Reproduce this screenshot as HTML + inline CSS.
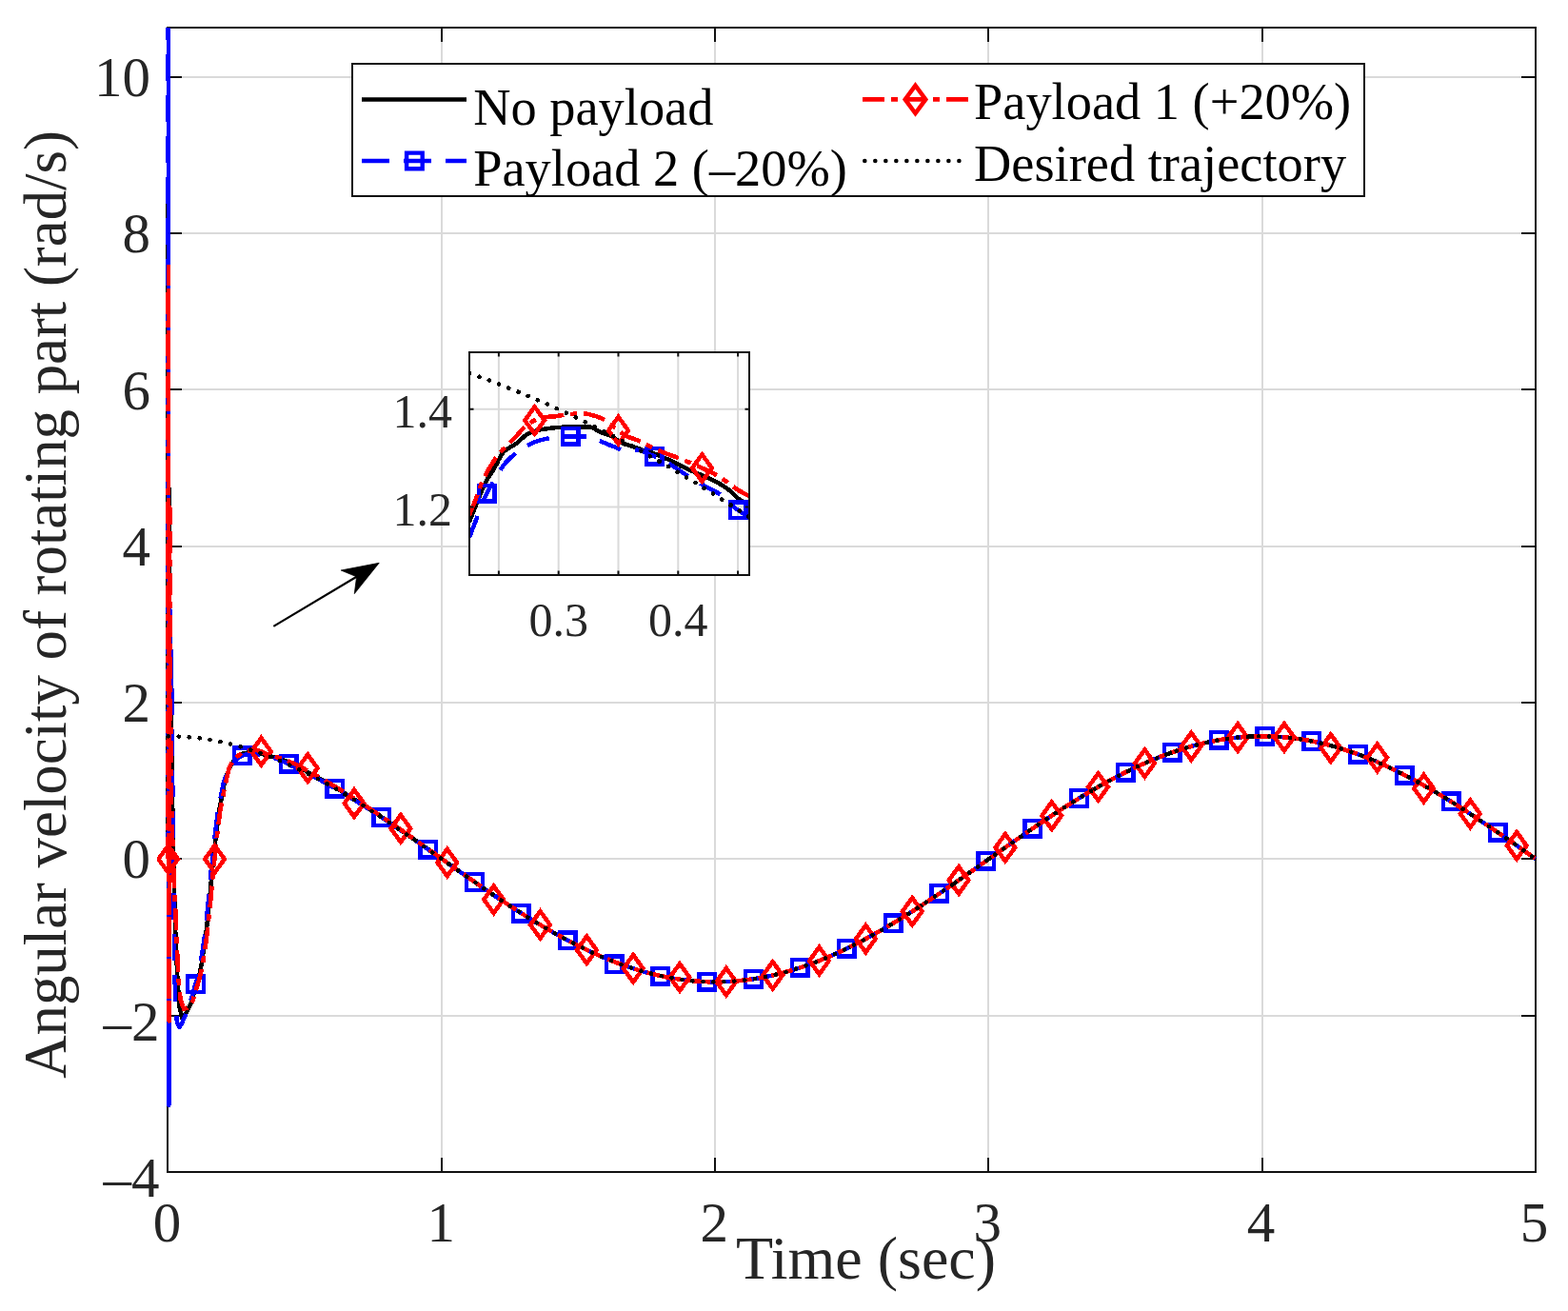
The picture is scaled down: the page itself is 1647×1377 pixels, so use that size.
<!DOCTYPE html>
<html><head><meta charset="utf-8"><title>Angular velocity plot</title>
<style>html,body{margin:0;padding:0;background:#fff;}svg{display:block;}</style>
</head><body>
<svg width="1647" height="1377" viewBox="0 0 1647 1377"><defs><clipPath id="mclip"><rect x="165" y="29.00" width="1456.30" height="1201.85"/></clipPath><clipPath id="iclip"><rect x="493.00" y="370.00" width="294.00" height="234.00"/></clipPath></defs><rect x="0" y="0" width="1647" height="1377" fill="#fff"/><path d="M464,29V1231M751,29V1231M1038,29V1231M1326,29V1231M176,1067H1613M176,902H1613M176,738H1613M176,574H1613M176,409H1613M176,245H1613M176,81H1613" stroke="#dadada" stroke-width="2" fill="none"/><path d="M464,1231V1216M464,29V44M751,1231V1216M751,29V44M1038,1231V1216M1038,29V44M1326,1231V1216M1326,29V44M176,1067H191M1613,1067H1598M176,902H191M1613,902H1598M176,738H191M1613,738H1598M176,574H191M1613,574H1598M176,409H191M1613,409H1598M176,245H191M1613,245H1598M176,81H191M1613,81H1598" stroke="#111111" stroke-width="2" fill="none"/><rect x="176" y="29" width="1437" height="1202" stroke="#111111" stroke-width="2" fill="none"/><g clip-path="url(#mclip)" fill="none" stroke-linejoin="round" shape-rendering="crispEdges"><path d="M176.67,902.33L176.33,187.80L177.10,491.68L178.39,655.94L179.54,738.07L181.84,885.90L184.14,976.25L186.44,1029.63L188.74,1058.38L191.01,1069.05L193.91,1066.59L196.21,1062.48L200.30,1054.40L200.73,1053.03L201.16,1051.65L201.59,1050.26L202.02,1048.86L202.45,1047.46L202.89,1046.04L203.32,1044.61L203.75,1043.17L204.18,1041.71L204.61,1040.24L205.04,1038.76L205.47,1037.29L205.90,1035.83L206.33,1034.39L206.76,1033.00L207.20,1031.63L207.63,1030.23L208.06,1028.79L208.49,1027.27L208.92,1025.64L209.35,1023.93L209.78,1022.15L210.21,1020.28L210.64,1018.30L211.07,1016.20L211.51,1013.96L211.94,1011.51L212.37,1008.65L212.80,1005.56L213.23,1002.46L213.66,999.55L214.09,996.82L214.52,994.15L214.95,991.39L215.38,988.41L215.82,985.14L216.25,981.61L216.68,977.92L217.11,974.12L217.54,970.19L217.97,966.09L218.40,961.90L218.83,957.68L219.26,953.50L219.69,949.29L220.13,944.98L220.56,940.47L220.99,935.55L221.42,930.25L221.85,924.99L222.28,920.20L222.71,916.04L223.14,912.23L223.57,908.59L224.00,904.93L224.44,901.07L224.87,896.94L225.30,892.65L225.73,888.37L226.16,884.21L226.59,880.31L227.02,876.58L227.45,872.97L227.88,869.45L228.31,865.99L228.75,862.48L229.18,858.95L229.61,855.53L230.04,852.37L230.47,849.58L230.90,847.16L231.33,844.97L231.76,842.92L232.19,840.89L232.62,838.79L233.06,836.55L233.49,834.26L233.92,831.98L234.35,829.76L234.78,827.60L235.21,825.43L235.64,823.35L236.07,821.49L236.50,819.90L236.93,818.39L237.37,816.96L237.80,815.59L238.23,814.29L238.66,813.05L239.09,811.87L239.52,810.74L239.95,809.66L240.38,808.63L240.81,807.65L241.24,806.71L241.67,805.84L242.11,805.06L242.54,804.31L242.97,803.58L243.40,802.82L243.83,802.05L244.26,801.28L244.69,800.55L245.12,799.89L245.55,799.33L245.98,798.84L246.42,798.38L246.85,797.93L247.28,797.45L247.71,796.90L248.14,796.31L248.57,795.70L249.00,795.15L249.43,794.69L249.86,794.38L250.29,794.14L250.73,793.94L251.16,793.77L251.59,793.60L252.02,793.44L252.45,793.25L252.88,793.02L253.31,792.76L253.74,792.48L254.17,792.20L254.60,791.92L255.04,791.68L255.47,791.48L255.90,791.34L256.33,791.22L256.76,791.12L257.19,791.03L257.62,790.94L258.05,790.87L258.48,790.80L258.91,790.74L259.35,790.69L259.78,790.64L260.21,790.60L260.64,790.57L261.07,790.53L261.50,790.50L261.93,790.47L262.36,790.44L262.79,790.41L263.22,790.39L263.66,790.37L264.09,790.36L264.52,790.36L264.95,790.35L265.38,790.35L265.81,790.35L266.24,790.35L266.67,790.35L267.10,790.35L267.53,790.35L267.97,790.35L268.40,790.35L268.83,790.35L269.26,790.35L269.69,790.35L270.12,790.35L270.55,790.36L270.98,790.43L271.41,790.58L271.84,790.77L272.28,790.98L272.71,791.16L273.14,791.28L273.57,791.38L274.00,791.47L274.43,791.55L274.86,791.65L275.29,791.76L275.72,791.91L276.15,792.11L276.59,792.33L277.02,792.56L277.45,792.77L277.88,792.96L278.31,793.09L278.74,793.19L279.17,793.28L279.60,793.36L280.03,793.45L280.46,793.55L280.89,793.65L281.33,793.77L281.76,793.88L282.19,793.99L282.62,794.10L283.05,794.20L283.48,794.29L283.91,794.38L284.34,794.46L284.77,794.55L285.20,794.65L285.64,794.75L286.07,794.86L286.50,794.98L286.93,795.10L287.36,795.22L287.79,795.35L288.22,795.48L288.65,795.61L289.08,795.74L289.51,795.88L289.95,796.03L290.38,796.18L290.81,796.33L291.24,796.49L291.67,796.65L292.10,796.80L292.53,796.96L292.96,797.11L293.39,797.25L293.82,797.38L294.26,797.52L294.69,797.65L295.12,797.78L295.55,797.91L295.98,798.03L296.41,798.17L296.84,798.30L297.27,798.43L297.70,798.56L298.13,798.68L298.57,798.81L299.00,798.94L299.43,799.08L299.86,799.22L300.29,799.37L300.72,799.53L301.15,799.70L301.58,799.87L302.01,800.05L302.44,800.23L302.88,800.43L303.31,800.64L303.74,800.86L304.17,801.11L304.60,801.39L305.03,801.69L305.46,801.99L305.89,802.26L306.32,802.49L306.75,802.70L307.19,802.89L307.62,803.07L308.05,803.24L308.48,803.38L308.67,803.44L309.82,804.01L310.97,804.58L312.12,805.16L313.26,805.74L314.41,806.32L315.56,806.91L316.71,807.49L317.86,808.09L319.01,808.68L320.16,809.28L321.31,809.88L322.46,810.49L323.61,811.10L324.76,811.71L325.91,812.32L327.06,812.94L328.21,813.56L329.36,814.18L330.50,814.81L331.65,815.44L332.80,816.07L333.95,816.71L335.10,817.35L336.25,817.99L337.40,818.63L338.55,819.28L339.70,819.93L340.85,820.59L342.00,821.24L343.15,821.90L344.30,822.56L345.45,823.23L346.59,823.89L347.74,824.56L348.89,825.24L350.04,825.91L351.19,826.59L352.34,827.27L353.49,827.95L354.64,828.64L355.79,829.33L356.94,830.02L358.09,830.71L359.24,831.41L360.39,832.11L361.54,832.81L362.68,833.51L363.83,834.22L364.98,834.93L366.13,835.64L367.28,836.35L368.43,837.07L369.58,837.78L370.73,838.50L371.88,839.23L373.03,839.95L374.18,840.68L375.33,841.41L376.48,842.14L377.63,842.87L378.78,843.61L379.92,844.34L381.07,845.08L382.22,845.83L383.37,846.57L384.52,847.31L385.67,848.06L386.82,848.81L387.97,849.56L389.12,850.32L390.27,851.07L391.42,851.83L392.57,852.59L393.72,853.35L394.87,854.11L396.01,854.87L397.16,855.64L398.31,856.41L399.46,857.18L400.61,857.95L401.76,858.72L402.91,859.49L404.06,860.27L405.21,861.05L406.36,861.82L407.51,862.60L408.66,863.39L409.81,864.17L410.96,864.95L412.10,865.74L413.25,866.52L414.40,867.31L415.55,868.10L416.70,868.89L417.85,869.68L419.00,870.48L420.15,871.27L421.30,872.06L422.45,872.86L423.60,873.66L424.75,874.45L425.90,875.25L427.05,876.05L428.20,876.85L429.34,877.66L430.49,878.46L431.64,879.26L432.79,880.07L433.94,880.87L435.09,881.68L436.24,882.48L437.39,883.29L438.54,884.10L439.69,884.91L440.84,885.72L441.99,886.53L443.14,887.34L444.29,888.15L445.43,888.96L446.58,889.77L447.73,890.58L448.88,891.39L450.03,892.21L451.18,893.02L452.33,893.83L453.48,894.65L454.63,895.46L455.78,896.27L456.93,897.09L458.08,897.90L459.23,898.72L460.38,899.53L461.52,900.34L462.67,901.16L463.82,901.97L464.97,902.79L466.12,903.60L467.27,904.42L468.42,905.23L469.57,906.04L470.72,906.86L471.87,907.67L473.02,908.48L474.17,909.30L475.32,910.11L476.47,910.92L477.62,911.73L478.76,912.54L479.91,913.35L481.06,914.16L482.21,914.97L483.36,915.78L484.51,916.59L485.66,917.40L486.81,918.21L487.96,919.01L489.11,919.82L490.26,920.63L491.41,921.43L492.56,922.23L493.71,923.04L494.85,923.84L496.00,924.64L497.15,925.44L498.30,926.24L499.45,927.04L500.60,927.83L501.75,928.63L502.90,929.43L504.05,930.22L505.20,931.01L506.35,931.80L507.50,932.59L508.65,933.38L509.80,934.17L510.95,934.96L512.09,935.74L513.24,936.53L514.39,937.31L515.54,938.09L516.69,938.87L517.84,939.65L518.99,940.43L520.14,941.20L521.29,941.97L522.44,942.75L523.59,943.52L524.74,944.29L525.89,945.05L527.04,945.82L528.18,946.58L529.33,947.34L530.48,948.10L531.63,948.86L532.78,949.62L533.93,950.37L535.08,951.13L536.23,951.88L537.38,952.62L538.53,953.37L539.68,954.12L540.83,954.86L541.98,955.60L543.13,956.34L544.27,957.07L545.42,957.81L546.57,958.54L547.72,959.27L548.87,959.99L550.02,960.72L551.17,961.44L552.32,962.16L553.47,962.88L554.62,963.60L555.77,964.31L556.92,965.02L558.07,965.73L559.22,966.43L560.37,967.14L561.51,967.84L562.66,968.53L563.81,969.23L564.96,969.92L566.11,970.61L567.26,971.30L568.41,971.98L569.56,972.66L570.71,973.34L571.86,974.02L573.01,974.69L574.16,975.36L575.31,976.03L576.46,976.69L577.60,977.36L578.75,978.01L579.90,978.67L581.05,979.32L582.20,979.97L583.35,980.62L584.50,981.26L585.65,981.90L586.80,982.54L587.95,983.17L589.10,983.80L590.25,984.43L591.40,985.05L592.55,985.67L593.69,986.29L594.84,986.91L595.99,987.52L597.14,988.12L598.29,988.73L599.44,989.33L600.59,989.93L601.74,990.52L602.89,991.11L604.04,991.70L605.19,992.28L606.34,992.86L607.49,993.44L608.64,994.01L609.79,994.58L610.93,995.14L612.08,995.70L613.23,996.26L614.38,996.82L615.53,997.37L616.68,997.91L617.83,998.45L618.98,998.99L620.13,999.53L621.28,1000.06L622.43,1000.59L623.58,1001.11L624.73,1001.63L625.88,1002.15L627.02,1002.66L628.17,1003.17L629.32,1003.67L630.47,1004.17L631.62,1004.67L632.77,1005.16L633.92,1005.64L635.07,1006.13L636.22,1006.61L637.37,1007.08L638.52,1007.55L639.67,1008.02L640.82,1008.48L641.97,1008.94L643.12,1009.40L644.26,1009.85L645.41,1010.29L646.56,1010.74L647.71,1011.17L648.86,1011.61L650.01,1012.03L651.16,1012.46L652.31,1012.88L653.46,1013.30L654.61,1013.71L655.76,1014.11L656.91,1014.52L658.06,1014.91L659.21,1015.31L660.35,1015.70L661.50,1016.08L662.65,1016.46L663.80,1016.84L664.95,1017.21L666.10,1017.58L667.25,1017.94L668.40,1018.29L669.55,1018.65L670.70,1019.00L671.85,1019.34L673.00,1019.68L674.15,1020.01L675.30,1020.34L676.44,1020.67L677.59,1020.99L678.74,1021.30L679.89,1021.62L681.04,1021.92L682.19,1022.22L683.34,1022.52L684.49,1022.81L685.64,1023.10L686.79,1023.38L687.94,1023.66L689.09,1023.93L690.24,1024.20L691.39,1024.47L692.54,1024.72L693.68,1024.98L694.83,1025.23L695.98,1025.47L697.13,1025.71L698.28,1025.94L699.43,1026.17L700.58,1026.40L701.73,1026.62L702.88,1026.83L704.03,1027.04L705.18,1027.25L706.33,1027.45L707.48,1027.64L708.63,1027.83L709.77,1028.02L710.92,1028.20L712.07,1028.37L713.22,1028.54L714.37,1028.71L715.52,1028.87L716.67,1029.02L717.82,1029.17L718.97,1029.32L720.12,1029.46L721.27,1029.60L722.42,1029.73L723.57,1029.85L724.72,1029.97L725.86,1030.09L727.01,1030.20L728.16,1030.30L729.31,1030.40L730.46,1030.50L731.61,1030.59L732.76,1030.67L733.91,1030.75L735.06,1030.82L736.21,1030.89L737.36,1030.96L738.51,1031.02L739.66,1031.07L740.81,1031.12L741.96,1031.17L743.10,1031.20L744.25,1031.24L745.40,1031.27L746.55,1031.29L747.70,1031.31L748.85,1031.32L750.00,1031.33L751.15,1031.34L752.30,1031.33L753.45,1031.33L754.60,1031.31L755.75,1031.30L756.90,1031.28L758.05,1031.25L759.19,1031.22L760.34,1031.18L761.49,1031.14L762.64,1031.09L763.79,1031.04L764.94,1030.98L766.09,1030.92L767.24,1030.85L768.39,1030.77L769.54,1030.70L770.69,1030.61L771.84,1030.53L772.99,1030.43L774.14,1030.33L775.28,1030.23L776.43,1030.12L777.58,1030.01L778.73,1029.89L779.88,1029.77L781.03,1029.64L782.18,1029.51L783.33,1029.37L784.48,1029.22L785.63,1029.07L786.78,1028.92L787.93,1028.76L789.08,1028.60L790.23,1028.43L791.38,1028.26L792.52,1028.08L793.67,1027.89L794.82,1027.71L795.97,1027.51L797.12,1027.31L798.27,1027.11L799.42,1026.90L800.57,1026.69L801.72,1026.47L802.87,1026.25L804.02,1026.02L805.17,1025.79L806.32,1025.55L807.47,1025.31L808.61,1025.06L809.76,1024.81L810.91,1024.55L812.06,1024.29L813.21,1024.02L814.36,1023.75L815.51,1023.48L816.66,1023.19L817.81,1022.91L818.96,1022.62L820.11,1022.32L821.26,1022.02L822.41,1021.72L823.56,1021.41L824.71,1021.09L825.85,1020.78L827.00,1020.45L828.15,1020.12L829.30,1019.79L830.45,1019.45L831.60,1019.11L832.75,1018.76L833.90,1018.41L835.05,1018.06L836.20,1017.70L837.35,1017.33L838.50,1016.96L839.65,1016.59L840.80,1016.21L841.94,1015.83L843.09,1015.44L844.24,1015.05L845.39,1014.65L846.54,1014.25L847.69,1013.84L848.84,1013.43L849.99,1013.02L851.14,1012.60L852.29,1012.18L853.44,1011.75L854.59,1011.32L855.74,1010.88L856.89,1010.44L858.03,1010.00L859.18,1009.55L860.33,1009.10L861.48,1008.64L862.63,1008.18L863.78,1007.71L864.93,1007.25L866.08,1006.77L867.23,1006.29L868.38,1005.81L869.53,1005.33L870.68,1004.84L871.83,1004.34L872.98,1003.84L874.13,1003.34L875.27,1002.83L876.42,1002.32L877.57,1001.81L878.72,1001.29L879.87,1000.77L881.02,1000.24L882.17,999.71L883.32,999.18L884.47,998.64L885.62,998.10L886.77,997.56L887.92,997.01L889.07,996.46L890.22,995.90L891.36,995.34L892.51,994.78L893.66,994.21L894.81,993.64L895.96,993.06L897.11,992.49L898.26,991.90L899.41,991.32L900.56,990.73L901.71,990.14L902.86,989.54L904.01,988.94L905.16,988.34L906.31,987.74L907.45,987.13L908.60,986.51L909.75,985.90L910.90,985.28L912.05,984.66L913.20,984.03L914.35,983.40L915.50,982.77L916.65,982.13L917.80,981.50L918.95,980.85L920.10,980.21L921.25,979.56L922.40,978.91L923.55,978.26L924.69,977.60L925.84,976.94L926.99,976.28L928.14,975.61L929.29,974.94L930.44,974.27L931.59,973.60L932.74,972.92L933.89,972.24L935.04,971.56L936.19,970.87L937.34,970.19L938.49,969.49L939.64,968.80L940.78,968.11L941.93,967.41L943.08,966.71L944.23,966.00L945.38,965.30L946.53,964.59L947.68,963.88L948.83,963.16L949.98,962.45L951.13,961.73L952.28,961.01L953.43,960.28L954.58,959.56L955.73,958.83L956.88,958.10L958.02,957.37L959.17,956.64L960.32,955.90L961.47,955.16L962.62,954.42L963.77,953.68L964.92,952.93L966.07,952.19L967.22,951.44L968.37,950.69L969.52,949.93L970.67,949.18L971.82,948.42L972.97,947.67L974.11,946.91L975.26,946.14L976.41,945.38L977.56,944.62L978.71,943.85L979.86,943.08L981.01,942.31L982.16,941.54L983.31,940.77L984.46,939.99L985.61,939.22L986.76,938.44L987.91,937.66L989.06,936.88L990.20,936.10L991.35,935.32L992.50,934.53L993.65,933.75L994.80,932.96L995.95,932.17L997.10,931.38L998.25,930.59L999.40,929.80L1000.55,929.01L1001.70,928.21L1002.85,927.42L1004.00,926.62L1005.15,925.83L1006.30,925.03L1007.44,924.23L1008.59,923.43L1009.74,922.63L1010.89,921.83L1012.04,921.03L1013.19,920.23L1014.34,919.42L1015.49,918.62L1016.64,917.82L1017.79,917.01L1018.94,916.20L1020.09,915.40L1021.24,914.59L1022.39,913.78L1023.53,912.98L1024.68,912.17L1025.83,911.36L1026.98,910.55L1028.13,909.74L1029.28,908.93L1030.43,908.12L1031.58,907.31L1032.73,906.50L1033.88,905.69L1035.03,904.88L1036.18,904.07L1037.33,903.26L1038.48,902.45L1039.62,901.64L1040.77,900.83L1041.92,900.02L1043.07,899.21L1044.22,898.40L1045.37,897.59L1046.52,896.78L1047.67,895.97L1048.82,895.16L1049.97,894.35L1051.12,893.54L1052.27,892.73L1053.42,891.93L1054.57,891.12L1055.72,890.31L1056.86,889.50L1058.01,888.70L1059.16,887.89L1060.31,887.09L1061.46,886.28L1062.61,885.48L1063.76,884.67L1064.91,883.87L1066.06,883.07L1067.21,882.27L1068.36,881.47L1069.51,880.67L1070.66,879.87L1071.81,879.07L1072.95,878.28L1074.10,877.48L1075.25,876.68L1076.40,875.89L1077.55,875.10L1078.70,874.31L1079.85,873.52L1081.00,872.73L1082.15,871.94L1083.30,871.15L1084.45,870.36L1085.60,869.58L1086.75,868.80L1087.90,868.01L1089.04,867.23L1090.19,866.45L1091.34,865.68L1092.49,864.90L1093.64,864.12L1094.79,863.35L1095.94,862.58L1097.09,861.81L1098.24,861.04L1099.39,860.27L1100.54,859.51L1101.69,858.74L1102.84,857.98L1103.99,857.22L1105.14,856.46L1106.28,855.71L1107.43,854.95L1108.58,854.20L1109.73,853.45L1110.88,852.70L1112.03,851.95L1113.18,851.21L1114.33,850.46L1115.48,849.72L1116.63,848.98L1117.78,848.25L1118.93,847.51L1120.08,846.78L1121.23,846.05L1122.37,845.32L1123.52,844.59L1124.67,843.87L1125.82,843.15L1126.97,842.43L1128.12,841.71L1129.27,841.00L1130.42,840.29L1131.57,839.58L1132.72,838.87L1133.87,838.16L1135.02,837.46L1136.17,836.76L1137.32,836.07L1138.47,835.37L1139.61,834.68L1140.76,833.99L1141.91,833.31L1143.06,832.62L1144.21,831.94L1145.36,831.26L1146.51,830.59L1147.66,829.92L1148.81,829.25L1149.96,828.58L1151.11,827.92L1152.26,827.26L1153.41,826.60L1154.56,825.94L1155.70,825.29L1156.85,824.64L1158.00,824.00L1159.15,823.36L1160.30,822.72L1161.45,822.08L1162.60,821.45L1163.75,820.82L1164.90,820.19L1166.05,819.57L1167.20,818.95L1168.35,818.33L1169.50,817.72L1170.65,817.11L1171.79,816.50L1172.94,815.90L1174.09,815.30L1175.24,814.70L1176.39,814.11L1177.54,813.52L1178.69,812.93L1179.84,812.35L1180.99,811.77L1182.14,811.19L1183.29,810.62L1184.44,810.05L1185.59,809.49L1186.74,808.93L1187.89,808.37L1189.03,807.82L1190.18,807.27L1191.33,806.72L1192.48,806.18L1193.63,805.64L1194.78,805.10L1195.93,804.57L1197.08,804.05L1198.23,803.52L1199.38,803.00L1200.53,802.49L1201.68,801.98L1202.83,801.47L1203.98,800.97L1205.12,800.47L1206.27,799.97L1207.42,799.48L1208.57,798.99L1209.72,798.51L1210.87,798.03L1212.02,797.56L1213.17,797.08L1214.32,796.62L1215.47,796.16L1216.62,795.70L1217.77,795.24L1218.92,794.79L1220.07,794.35L1221.21,793.91L1222.36,793.47L1223.51,793.04L1224.66,792.61L1225.81,792.18L1226.96,791.76L1228.11,791.35L1229.26,790.94L1230.41,790.53L1231.56,790.13L1232.71,789.73L1233.86,789.34L1235.01,788.95L1236.16,788.56L1237.31,788.18L1238.45,787.81L1239.60,787.44L1240.75,787.07L1241.90,786.71L1243.05,786.35L1244.20,786.00L1245.35,785.65L1246.50,785.31L1247.65,784.97L1248.80,784.63L1249.95,784.30L1251.10,783.98L1252.25,783.66L1253.40,783.34L1254.54,783.03L1255.69,782.73L1256.84,782.42L1257.99,782.13L1259.14,781.84L1260.29,781.55L1261.44,781.27L1262.59,780.99L1263.74,780.72L1264.89,780.45L1266.04,780.18L1267.19,779.93L1268.34,779.67L1269.49,779.42L1270.64,779.18L1271.78,778.94L1272.93,778.71L1274.08,778.48L1275.23,778.25L1276.38,778.03L1277.53,777.82L1278.68,777.61L1279.83,777.40L1280.98,777.20L1282.13,777.01L1283.28,776.82L1284.43,776.63L1285.58,776.45L1286.73,776.28L1287.87,776.11L1289.02,775.94L1290.17,775.78L1291.32,775.63L1292.47,775.48L1293.62,775.33L1294.77,775.19L1295.92,775.06L1297.07,774.93L1298.22,774.80L1299.37,774.68L1300.52,774.57L1301.67,774.46L1302.82,774.35L1303.96,774.25L1305.11,774.16L1306.26,774.07L1307.41,773.98L1308.56,773.90L1309.71,773.83L1310.86,773.76L1312.01,773.70L1313.16,773.64L1314.31,773.58L1315.46,773.53L1316.61,773.49L1317.76,773.45L1318.91,773.42L1320.06,773.39L1321.20,773.36L1322.35,773.35L1323.50,773.33L1324.65,773.32L1325.80,773.32L1326.95,773.32L1328.10,773.33L1329.25,773.34L1330.40,773.36L1331.55,773.38L1332.70,773.41L1333.85,773.44L1335.00,773.48L1336.15,773.52L1337.29,773.57L1338.44,773.62L1339.59,773.68L1340.74,773.74L1341.89,773.81L1343.04,773.88L1344.19,773.96L1345.34,774.04L1346.49,774.13L1347.64,774.22L1348.79,774.32L1349.94,774.43L1351.09,774.53L1352.24,774.65L1353.38,774.77L1354.53,774.89L1355.68,775.02L1356.83,775.15L1357.98,775.29L1359.13,775.43L1360.28,775.58L1361.43,775.74L1362.58,775.90L1363.73,776.06L1364.88,776.23L1366.03,776.40L1367.18,776.58L1368.33,776.76L1369.48,776.95L1370.62,777.15L1371.77,777.34L1372.92,777.55L1374.07,777.75L1375.22,777.97L1376.37,778.19L1377.52,778.41L1378.67,778.64L1379.82,778.87L1380.97,779.11L1382.12,779.35L1383.27,779.60L1384.42,779.85L1385.57,780.11L1386.71,780.37L1387.86,780.63L1389.01,780.91L1390.16,781.18L1391.31,781.46L1392.46,781.75L1393.61,782.04L1394.76,782.34L1395.91,782.64L1397.06,782.94L1398.21,783.25L1399.36,783.56L1400.51,783.88L1401.66,784.21L1402.80,784.53L1403.95,784.87L1405.10,785.20L1406.25,785.55L1407.40,785.89L1408.55,786.25L1409.70,786.60L1410.85,786.96L1412.00,787.33L1413.15,787.70L1414.30,788.07L1415.45,788.45L1416.60,788.83L1417.75,789.22L1418.90,789.61L1420.04,790.01L1421.19,790.41L1422.34,790.81L1423.49,791.22L1424.64,791.64L1425.79,792.06L1426.94,792.48L1428.09,792.91L1429.24,793.34L1430.39,793.77L1431.54,794.21L1432.69,794.66L1433.84,795.11L1434.99,795.56L1436.13,796.02L1437.28,796.48L1438.43,796.94L1439.58,797.41L1440.73,797.89L1441.88,798.37L1443.03,798.85L1444.18,799.33L1445.33,799.82L1446.48,800.32L1447.63,800.82L1448.78,801.32L1449.93,801.82L1451.08,802.33L1452.23,802.85L1453.37,803.37L1454.52,803.89L1455.67,804.41L1456.82,804.94L1457.97,805.48L1459.12,806.02L1460.27,806.56L1461.42,807.10L1462.57,807.65L1463.72,808.20L1464.87,808.76L1466.02,809.32L1467.17,809.88L1468.32,810.45L1469.46,811.02L1470.61,811.60L1471.76,812.17L1472.91,812.75L1474.06,813.34L1475.21,813.93L1476.36,814.52L1477.51,815.12L1478.66,815.72L1479.81,816.32L1480.96,816.92L1482.11,817.53L1483.26,818.15L1484.41,818.76L1485.55,819.38L1486.70,820.00L1487.85,820.63L1489.00,821.26L1490.15,821.89L1491.30,822.52L1492.45,823.16L1493.60,823.80L1494.75,824.45L1495.90,825.10L1497.05,825.75L1498.20,826.40L1499.35,827.06L1500.50,827.72L1501.65,828.38L1502.79,829.05L1503.94,829.72L1505.09,830.39L1506.24,831.06L1507.39,831.74L1508.54,832.42L1509.69,833.10L1510.84,833.79L1511.99,834.47L1513.14,835.16L1514.29,835.86L1515.44,836.55L1516.59,837.25L1517.74,837.95L1518.88,838.66L1520.03,839.36L1521.18,840.07L1522.33,840.78L1523.48,841.50L1524.63,842.21L1525.78,842.93L1526.93,843.65L1528.08,844.38L1529.23,845.10L1530.38,845.83L1531.53,846.56L1532.68,847.29L1533.83,848.02L1534.97,848.76L1536.12,849.50L1537.27,850.24L1538.42,850.98L1539.57,851.73L1540.72,852.47L1541.87,853.22L1543.02,853.97L1544.17,854.73L1545.32,855.48L1546.47,856.24L1547.62,856.99L1548.77,857.75L1549.92,858.52L1551.07,859.28L1552.21,860.04L1553.36,860.81L1554.51,861.58L1555.66,862.35L1556.81,863.12L1557.96,863.89L1559.11,864.67L1560.26,865.44L1561.41,866.22L1562.56,867.00L1563.71,867.78L1564.86,868.56L1566.01,869.34L1567.16,870.13L1568.30,870.91L1569.45,871.70L1570.60,872.49L1571.75,873.28L1572.90,874.07L1574.05,874.86L1575.20,875.65L1576.35,876.45L1577.50,877.24L1578.65,878.04L1579.80,878.83L1580.95,879.63L1582.10,880.43L1583.25,881.23L1584.40,882.03L1585.54,882.83L1586.69,883.63L1587.84,884.43L1588.99,885.24L1590.14,886.04L1591.29,886.84L1592.44,887.65L1593.59,888.46L1594.74,889.26L1595.89,890.07L1597.04,890.88L1598.19,891.68L1599.34,892.49L1600.49,893.30L1601.63,894.11L1602.78,894.92L1603.93,895.73L1605.08,896.54L1606.23,897.35L1607.38,898.16L1608.53,898.97L1609.68,899.78L1610.83,900.59L1611.98,901.40L1613.13,902.21" stroke="#000" stroke-width="4.5"/><path d="M176.67,902.33L176.73,-42.16L177.45,1160.63L178.25,639.51L180.61,738.07L181.84,902.33L182.99,1000.89L184.14,1050.16L185.86,1073.16L188.45,1078.91L191.04,1074.80L193.91,1068.23L199.15,1054.40L199.58,1053.03L200.01,1051.65L200.44,1050.26L200.87,1048.86L201.31,1047.46L201.74,1046.04L202.17,1044.61L202.60,1043.17L203.03,1041.71L203.46,1040.24L203.89,1038.76L204.32,1037.29L204.75,1035.83L205.18,1034.39L205.62,1033.00L206.05,1031.63L206.48,1030.23L206.91,1028.79L207.34,1027.27L207.77,1025.64L208.20,1023.93L208.63,1022.15L209.06,1020.28L209.49,1018.30L209.93,1016.20L210.36,1013.96L210.79,1011.51L211.22,1008.65L211.65,1005.56L212.08,1002.46L212.51,999.55L212.94,996.82L213.37,994.15L213.80,991.39L214.24,988.41L214.67,985.14L215.10,981.61L215.53,977.92L215.96,974.12L216.39,970.19L216.82,966.09L217.25,961.90L217.68,957.68L218.11,953.50L218.55,949.29L218.98,944.98L219.41,940.47L219.84,935.55L220.27,930.25L220.70,924.99L221.13,920.20L221.56,916.04L221.99,912.23L222.42,908.59L222.86,904.93L223.29,901.07L223.72,896.94L224.15,892.65L224.58,888.37L225.01,884.21L225.44,880.31L225.87,876.58L226.30,872.97L226.73,869.45L227.16,865.99L227.60,862.48L228.03,858.95L228.46,855.53L228.89,852.37L229.32,849.58L229.75,847.16L230.18,844.97L230.61,842.92L231.04,840.89L231.47,838.79L231.91,836.55L232.34,834.26L232.77,831.98L233.20,829.76L233.63,827.57L234.06,825.30L234.49,823.16L234.92,821.41L235.35,820.14L235.78,819.00L236.22,817.97L236.65,817.02L237.08,816.15L237.51,815.35L237.94,814.59L238.37,813.88L238.80,813.19L239.23,812.52L239.66,811.85L240.09,811.17L240.53,810.46L240.96,809.73L241.39,808.95L241.82,808.16L242.25,807.37L242.68,806.59L243.11,805.82L243.54,805.05L243.97,804.26L244.40,803.47L244.84,802.70L245.27,801.99L245.70,801.36L246.13,800.80L246.56,800.28L246.99,799.79L247.42,799.30L247.85,798.81L248.28,798.29L248.71,797.76L249.15,797.26L249.58,796.81L250.01,796.43L250.44,796.10L250.87,795.80L251.30,795.52L251.73,795.26L252.16,794.99L252.59,794.73L253.02,794.48L253.46,794.26L253.89,794.05L254.32,793.87L254.75,793.69L255.18,793.52L255.61,793.36L256.04,793.20L256.47,793.06L256.90,792.94L257.33,792.82L257.77,792.72L258.20,792.62L258.63,792.53L259.06,792.45L259.49,792.37L259.92,792.30L260.35,792.25L260.78,792.20L261.21,792.16L261.64,792.12L262.08,792.09L262.51,792.05L262.94,792.02L263.37,791.99L263.80,791.97L264.23,791.95L264.66,791.93L265.09,791.92L265.52,791.91L265.95,791.91L266.38,791.91L266.82,791.91L267.25,791.91L267.68,791.91L268.11,791.91L268.54,791.91L268.97,791.91L269.40,791.91L269.83,791.92L270.26,791.96L270.69,792.05L271.13,792.18L271.56,792.32L271.99,792.46L272.42,792.59L272.85,792.71L273.28,792.83L273.71,792.95L274.14,793.07L274.57,793.20L275.00,793.32L275.44,793.44L275.87,793.57L276.30,793.68L276.73,793.80L277.16,793.93L277.59,794.07L278.02,794.20L278.45,794.29L278.88,794.34L279.31,794.34L279.75,794.32L280.18,794.29L280.61,794.26L281.04,794.23L281.47,794.21L281.90,794.21L282.33,794.24L282.76,794.32L283.19,794.44L283.62,794.57L284.06,794.72L284.49,794.85L284.92,794.97L285.35,795.09L285.78,795.21L286.21,795.34L286.64,795.47L287.07,795.61L287.50,795.76L287.93,795.92L288.37,796.08L288.80,796.25L289.23,796.42L289.66,796.60L290.09,796.78L290.52,796.97L290.95,797.16L291.38,797.36L291.81,797.57L292.24,797.78L292.68,797.99L293.11,798.20L293.54,798.40L293.97,798.60L294.40,798.78L294.83,798.97L295.26,799.15L295.69,799.32L296.12,799.50L296.55,799.67L296.99,799.84L297.42,800.01L297.85,800.18L298.28,800.35L298.71,800.52L299.14,800.69L299.57,800.85L300.00,801.00L300.43,801.15L300.86,801.30L301.30,801.46L301.73,801.63L302.16,801.82L302.59,802.02L303.02,802.28L303.45,802.58L303.88,802.92L304.31,803.26L304.74,803.59L305.17,803.87L305.60,804.10L306.04,804.31L306.47,804.51L306.90,804.69L307.33,804.86L307.76,805.00L308.19,805.13L308.27,805.15L309.41,805.68L310.56,806.23L311.71,806.77L312.86,807.32L314.01,807.87L315.16,808.43L316.31,808.99L317.46,809.56L318.61,810.12L319.76,810.70L320.91,811.27L322.06,811.85L323.21,812.43L324.36,813.02L325.50,813.61L326.65,814.20L327.80,814.80L328.95,815.40L330.10,816.00L331.25,816.61L332.40,817.21L333.55,817.83L334.70,818.44L335.85,819.06L337.00,819.69L338.15,820.31L339.30,820.94L340.45,821.57L341.60,822.21L342.74,822.85L343.89,823.49L345.04,824.14L346.19,824.78L347.34,825.44L348.49,826.09L349.64,826.75L350.79,827.41L351.94,828.07L353.09,828.74L354.24,829.40L355.39,830.08L356.54,830.75L357.69,831.43L358.83,832.11L359.98,832.79L361.13,833.48L362.28,834.16L363.43,834.86L364.58,835.55L365.73,836.24L366.88,836.94L368.03,837.64L369.18,838.35L370.33,839.06L371.48,839.76L372.63,840.48L373.78,841.19L374.92,841.91L376.07,842.62L377.22,843.34L378.37,844.07L379.52,844.79L380.67,845.52L381.82,846.25L382.97,846.98L384.12,847.72L385.27,848.45L386.42,849.19L387.57,849.93L388.72,850.67L389.87,851.42L391.02,852.17L392.16,852.91L393.31,853.67L394.46,854.42L395.61,855.17L396.76,855.93L397.91,856.69L399.06,857.45L400.21,858.21L401.36,858.97L402.51,859.74L403.66,860.50L404.81,861.27L405.96,862.04L407.11,862.81L408.25,863.59L409.40,864.36L410.55,865.14L411.70,865.91L412.85,866.69L414.00,867.47L415.15,868.26L416.30,869.04L417.45,869.82L418.60,870.61L419.75,871.39L420.90,872.18L422.05,872.97L423.20,873.76L424.35,874.55L425.49,875.35L426.64,876.14L427.79,876.94L428.94,877.73L430.09,878.53L431.24,879.33L432.39,880.12L433.54,880.92L434.69,881.72L435.84,882.52L436.99,883.33L438.14,884.13L439.29,884.93L440.44,885.74L441.58,886.54L442.73,887.35L443.88,888.15L445.03,888.96L446.18,889.76L447.33,890.57L448.48,891.38L449.63,892.19L450.78,893.00L451.93,893.81L453.08,894.61L454.23,895.42L455.38,896.23L456.53,897.04L457.67,897.85L458.82,898.66L459.97,899.48L461.12,900.29L462.27,901.10L463.42,901.91L464.57,902.72L465.72,903.53L466.87,904.34L468.02,905.15L469.17,905.96L470.32,906.77L471.47,907.58L472.62,908.39L473.77,909.20L474.91,910.01L476.06,910.82L477.21,911.63L478.36,912.44L479.51,913.25L480.66,914.05L481.81,914.86L482.96,915.67L484.11,916.47L485.26,917.28L486.41,918.08L487.56,918.89L488.71,919.69L489.86,920.50L491.00,921.30L492.15,922.10L493.30,922.90L494.45,923.70L495.60,924.50L496.75,925.30L497.90,926.10L499.05,926.89L500.20,927.69L501.35,928.48L502.50,929.27L503.65,930.07L504.80,930.86L505.95,931.65L507.09,932.44L508.24,933.23L509.39,934.01L510.54,934.80L511.69,935.58L512.84,936.36L513.99,937.15L515.14,937.92L516.29,938.70L517.44,939.48L518.59,940.26L519.74,941.03L520.89,941.80L522.04,942.57L523.19,943.34L524.33,944.11L525.48,944.88L526.63,945.64L527.78,946.40L528.93,947.17L530.08,947.92L531.23,948.68L532.38,949.44L533.53,950.19L534.68,950.94L535.83,951.69L536.98,952.44L538.13,953.19L539.28,953.93L540.42,954.67L541.57,955.41L542.72,956.15L543.87,956.89L545.02,957.62L546.17,958.35L547.32,959.08L548.47,959.81L549.62,960.53L550.77,961.25L551.92,961.97L553.07,962.69L554.22,963.41L555.37,964.12L556.51,964.83L557.66,965.54L558.81,966.24L559.96,966.95L561.11,967.65L562.26,968.35L563.41,969.04L564.56,969.73L565.71,970.42L566.86,971.11L568.01,971.79L569.16,972.48L570.31,973.16L571.46,973.83L572.61,974.50L573.75,975.18L574.90,975.84L576.05,976.51L577.20,977.17L578.35,977.83L579.50,978.48L580.65,979.14L581.80,979.79L582.95,980.43L584.10,981.08L585.25,981.72L586.40,982.36L587.55,982.99L588.70,983.62L589.84,984.25L590.99,984.87L592.14,985.49L593.29,986.11L594.44,986.73L595.59,987.34L596.74,987.95L597.89,988.55L599.04,989.15L600.19,989.75L601.34,990.34L602.49,990.94L603.64,991.52L604.79,992.11L605.94,992.69L607.08,993.26L608.23,993.84L609.38,994.41L610.53,994.97L611.68,995.54L612.83,996.09L613.98,996.65L615.13,997.20L616.28,997.75L617.43,998.29L618.58,998.83L619.73,999.37L620.88,999.90L622.03,1000.43L623.17,1000.95L624.32,1001.47L625.47,1001.99L626.62,1002.50L627.77,1003.01L628.92,1003.52L630.07,1004.02L631.22,1004.51L632.37,1005.01L633.52,1005.50L634.67,1005.98L635.82,1006.46L636.97,1006.94L638.12,1007.41L639.26,1007.88L640.41,1008.34L641.56,1008.80L642.71,1009.26L643.86,1009.71L645.01,1010.16L646.16,1010.60L647.31,1011.04L648.46,1011.47L649.61,1011.90L650.76,1012.33L651.91,1012.75L653.06,1013.17L654.21,1013.58L655.36,1013.99L656.50,1014.39L657.65,1014.79L658.80,1015.18L659.95,1015.58L661.10,1015.96L662.25,1016.34L663.40,1016.72L664.55,1017.09L665.70,1017.46L666.85,1017.82L668.00,1018.18L669.15,1018.54L670.30,1018.89L671.45,1019.23L672.59,1019.57L673.74,1019.91L674.89,1020.24L676.04,1020.57L677.19,1020.89L678.34,1021.21L679.49,1021.52L680.64,1021.83L681.79,1022.13L682.94,1022.43L684.09,1022.72L685.24,1023.01L686.39,1023.29L687.54,1023.57L688.68,1023.85L689.83,1024.12L690.98,1024.38L692.13,1024.64L693.28,1024.90L694.43,1025.15L695.58,1025.39L696.73,1025.64L697.88,1025.87L699.03,1026.10L700.18,1026.33L701.33,1026.55L702.48,1026.77L703.63,1026.98L704.78,1027.18L705.92,1027.39L707.07,1027.58L708.22,1027.77L709.37,1027.96L710.52,1028.14L711.67,1028.32L712.82,1028.49L713.97,1028.66L715.12,1028.82L716.27,1028.98L717.42,1029.13L718.57,1029.28L719.72,1029.42L720.87,1029.55L722.01,1029.69L723.16,1029.81L724.31,1029.94L725.46,1030.05L726.61,1030.16L727.76,1030.27L728.91,1030.37L730.06,1030.47L731.21,1030.56L732.36,1030.65L733.51,1030.73L734.66,1030.80L735.81,1030.88L736.96,1030.94L738.11,1031.00L739.25,1031.06L740.40,1031.11L741.55,1031.16L742.70,1031.20L743.85,1031.23L745.00,1031.26L746.15,1031.29L747.30,1031.31L748.45,1031.32L749.60,1031.33L750.75,1031.34L751.90,1031.34L753.05,1031.33L754.20,1031.32L755.34,1031.31L756.49,1031.29L757.64,1031.26L758.79,1031.23L759.94,1031.20L761.09,1031.16L762.24,1031.11L763.39,1031.06L764.54,1031.00L765.69,1030.94L766.84,1030.88L767.99,1030.80L769.14,1030.73L770.29,1030.65L771.43,1030.56L772.58,1030.47L773.73,1030.37L774.88,1030.27L776.03,1030.16L777.18,1030.05L778.33,1029.94L779.48,1029.81L780.63,1029.69L781.78,1029.56L782.93,1029.42L784.08,1029.28L785.23,1029.13L786.38,1028.98L787.53,1028.82L788.67,1028.66L789.82,1028.49L790.97,1028.32L792.12,1028.14L793.27,1027.96L794.42,1027.77L795.57,1027.58L796.72,1027.39L797.87,1027.18L799.02,1026.98L800.17,1026.77L801.32,1026.55L802.47,1026.33L803.62,1026.10L804.76,1025.87L805.91,1025.64L807.06,1025.40L808.21,1025.15L809.36,1024.90L810.51,1024.64L811.66,1024.38L812.81,1024.12L813.96,1023.85L815.11,1023.57L816.26,1023.30L817.41,1023.01L818.56,1022.72L819.71,1022.43L820.85,1022.13L822.00,1021.83L823.15,1021.52L824.30,1021.21L825.45,1020.89L826.60,1020.57L827.75,1020.24L828.90,1019.91L830.05,1019.57L831.20,1019.23L832.35,1018.89L833.50,1018.54L834.65,1018.18L835.80,1017.83L836.95,1017.46L838.09,1017.09L839.24,1016.72L840.39,1016.34L841.54,1015.96L842.69,1015.58L843.84,1015.19L844.99,1014.79L846.14,1014.39L847.29,1013.99L848.44,1013.58L849.59,1013.17L850.74,1012.75L851.89,1012.33L853.04,1011.90L854.18,1011.47L855.33,1011.04L856.48,1010.60L857.63,1010.16L858.78,1009.71L859.93,1009.26L861.08,1008.80L862.23,1008.34L863.38,1007.88L864.53,1007.41L865.68,1006.94L866.83,1006.46L867.98,1005.98L869.13,1005.50L870.27,1005.01L871.42,1004.52L872.57,1004.02L873.72,1003.52L874.87,1003.01L876.02,1002.50L877.17,1001.99L878.32,1001.47L879.47,1000.95L880.62,1000.43L881.77,999.90L882.92,999.37L884.07,998.83L885.22,998.29L886.37,997.75L887.51,997.20L888.66,996.65L889.81,996.10L890.96,995.54L892.11,994.98L893.26,994.41L894.41,993.84L895.56,993.27L896.71,992.69L897.86,992.11L899.01,991.53L900.16,990.94L901.31,990.35L902.46,989.75L903.60,989.15L904.75,988.55L905.90,987.95L907.05,987.34L908.20,986.73L909.35,986.11L910.50,985.50L911.65,984.88L912.80,984.25L913.95,983.62L915.10,982.99L916.25,982.36L917.40,981.72L918.55,981.08L919.70,980.44L920.84,979.79L921.99,979.14L923.14,978.49L924.29,977.83L925.44,977.17L926.59,976.51L927.74,975.85L928.89,975.18L930.04,974.51L931.19,973.84L932.34,973.16L933.49,972.48L934.64,971.80L935.79,971.11L936.93,970.43L938.08,969.74L939.23,969.04L940.38,968.35L941.53,967.65L942.68,966.95L943.83,966.25L944.98,965.54L946.13,964.84L947.28,964.13L948.43,963.41L949.58,962.70L950.73,961.98L951.88,961.26L953.02,960.54L954.17,959.81L955.32,959.09L956.47,958.36L957.62,957.63L958.77,956.89L959.92,956.16L961.07,955.42L962.22,954.68L963.37,953.94L964.52,953.19L965.67,952.45L966.82,951.70L967.97,950.95L969.12,950.20L970.26,949.44L971.41,948.69L972.56,947.93L973.71,947.17L974.86,946.41L976.01,945.65L977.16,944.88L978.31,944.12L979.46,943.35L980.61,942.58L981.76,941.81L982.91,941.04L984.06,940.26L985.21,939.49L986.35,938.71L987.50,937.93L988.65,937.15L989.80,936.37L990.95,935.59L992.10,934.81L993.25,934.02L994.40,933.23L995.55,932.45L996.70,931.66L997.85,930.87L999.00,930.08L1000.15,929.28L1001.30,928.49L1002.44,927.70L1003.59,926.90L1004.74,926.11L1005.89,925.31L1007.04,924.51L1008.19,923.71L1009.34,922.91L1010.49,922.11L1011.64,921.31L1012.79,920.51L1013.94,919.70L1015.09,918.90L1016.24,918.10L1017.39,917.29L1018.54,916.49L1019.68,915.68L1020.83,914.87L1021.98,914.07L1023.13,913.26L1024.28,912.45L1025.43,911.64L1026.58,910.84L1027.73,910.03L1028.88,909.22L1030.03,908.41L1031.18,907.60L1032.33,906.79L1033.48,905.98L1034.63,905.17L1035.77,904.36L1036.92,903.55L1038.07,902.74L1039.22,901.92L1040.37,901.11L1041.52,900.30L1042.67,899.49L1043.82,898.68L1044.97,897.87L1046.12,897.06L1047.27,896.25L1048.42,895.44L1049.57,894.63L1050.72,893.82L1051.86,893.02L1053.01,892.21L1054.16,891.40L1055.31,890.59L1056.46,889.79L1057.61,888.98L1058.76,888.17L1059.91,887.37L1061.06,886.56L1062.21,885.76L1063.36,884.96L1064.51,884.15L1065.66,883.35L1066.81,882.55L1067.96,881.75L1069.10,880.95L1070.25,880.15L1071.40,879.35L1072.55,878.55L1073.70,877.76L1074.85,876.96L1076.00,876.17L1077.15,875.38L1078.30,874.58L1079.45,873.79L1080.60,873.00L1081.75,872.21L1082.90,871.43L1084.05,870.64L1085.19,869.85L1086.34,869.07L1087.49,868.29L1088.64,867.51L1089.79,866.73L1090.94,865.95L1092.09,865.17L1093.24,864.40L1094.39,863.62L1095.54,862.85L1096.69,862.08L1097.84,861.31L1098.99,860.54L1100.14,859.78L1101.29,859.01L1102.43,858.25L1103.58,857.49L1104.73,856.73L1105.88,855.97L1107.03,855.22L1108.18,854.46L1109.33,853.71L1110.48,852.96L1111.63,852.21L1112.78,851.47L1113.93,850.72L1115.08,849.98L1116.23,849.24L1117.38,848.50L1118.52,847.77L1119.67,847.03L1120.82,846.30L1121.97,845.57L1123.12,844.85L1124.27,844.12L1125.42,843.40L1126.57,842.68L1127.72,841.96L1128.87,841.25L1130.02,840.53L1131.17,839.82L1132.32,839.12L1133.47,838.41L1134.61,837.71L1135.76,837.01L1136.91,836.31L1138.06,835.62L1139.21,834.92L1140.36,834.23L1141.51,833.55L1142.66,832.86L1143.81,832.18L1144.96,831.50L1146.11,830.82L1147.26,830.15L1148.41,829.48L1149.56,828.81L1150.71,828.15L1151.85,827.49L1153.00,826.83L1154.15,826.17L1155.30,825.52L1156.45,824.87L1157.60,824.22L1158.75,823.58L1159.90,822.94L1161.05,822.30L1162.20,821.67L1163.35,821.04L1164.50,820.41L1165.65,819.78L1166.80,819.16L1167.94,818.55L1169.09,817.93L1170.24,817.32L1171.39,816.71L1172.54,816.11L1173.69,815.50L1174.84,814.91L1175.99,814.31L1177.14,813.72L1178.29,813.13L1179.44,812.55L1180.59,811.97L1181.74,811.39L1182.89,810.82L1184.03,810.25L1185.18,809.68L1186.33,809.12L1187.48,808.56L1188.63,808.01L1189.78,807.46L1190.93,806.91L1192.08,806.37L1193.23,805.83L1194.38,805.29L1195.53,804.76L1196.68,804.23L1197.83,803.71L1198.98,803.19L1200.13,802.67L1201.27,802.16L1202.42,801.65L1203.57,801.14L1204.72,800.64L1205.87,800.14L1207.02,799.65L1208.17,799.16L1209.32,798.68L1210.47,798.20L1211.62,797.72L1212.77,797.25L1213.92,796.78L1215.07,796.32L1216.22,795.86L1217.36,795.40L1218.51,794.95L1219.66,794.50L1220.81,794.06L1221.96,793.62L1223.11,793.19L1224.26,792.76L1225.41,792.33L1226.56,791.91L1227.71,791.49L1228.86,791.08L1230.01,790.67L1231.16,790.27L1232.31,789.87L1233.46,789.47L1234.60,789.08L1235.75,788.70L1236.90,788.32L1238.05,787.94L1239.20,787.57L1240.35,787.20L1241.50,786.83L1242.65,786.48L1243.80,786.12L1244.95,785.77L1246.10,785.43L1247.25,785.09L1248.40,784.75L1249.55,784.42L1250.69,784.09L1251.84,783.77L1252.99,783.45L1254.14,783.14L1255.29,782.83L1256.44,782.53L1257.59,782.23L1258.74,781.94L1259.89,781.65L1261.04,781.36L1262.19,781.09L1263.34,780.81L1264.49,780.54L1265.64,780.28L1266.78,780.02L1267.93,779.76L1269.08,779.51L1270.23,779.26L1271.38,779.02L1272.53,778.79L1273.68,778.56L1274.83,778.33L1275.98,778.11L1277.13,777.89L1278.28,777.68L1279.43,777.47L1280.58,777.27L1281.73,777.08L1282.88,776.89L1284.02,776.70L1285.17,776.52L1286.32,776.34L1287.47,776.17L1288.62,776.00L1289.77,775.84L1290.92,775.68L1292.07,775.53L1293.22,775.38L1294.37,775.24L1295.52,775.10L1296.67,774.97L1297.82,774.85L1298.97,774.72L1300.11,774.61L1301.26,774.50L1302.41,774.39L1303.56,774.29L1304.71,774.19L1305.86,774.10L1307.01,774.01L1308.16,773.93L1309.31,773.86L1310.46,773.78L1311.61,773.72L1312.76,773.66L1313.91,773.60L1315.06,773.55L1316.20,773.50L1317.35,773.46L1318.50,773.43L1319.65,773.40L1320.80,773.37L1321.95,773.35L1323.10,773.34L1324.25,773.33L1325.40,773.32L1326.55,773.32L1327.70,773.33L1328.85,773.34L1330.00,773.35L1331.15,773.37L1332.30,773.40L1333.44,773.43L1334.59,773.46L1335.74,773.50L1336.89,773.55L1338.04,773.60L1339.19,773.66L1340.34,773.72L1341.49,773.78L1342.64,773.86L1343.79,773.93L1344.94,774.01L1346.09,774.10L1347.24,774.19L1348.39,774.29L1349.53,774.39L1350.68,774.50L1351.83,774.61L1352.98,774.72L1354.13,774.85L1355.28,774.97L1356.43,775.10L1357.58,775.24L1358.73,775.38L1359.88,775.53L1361.03,775.68L1362.18,775.84L1363.33,776.00L1364.48,776.17L1365.62,776.34L1366.77,776.52L1367.92,776.70L1369.07,776.89L1370.22,777.08L1371.37,777.27L1372.52,777.47L1373.67,777.68L1374.82,777.89L1375.97,778.11L1377.12,778.33L1378.27,778.56L1379.42,778.79L1380.57,779.02L1381.72,779.26L1382.86,779.51L1384.01,779.76L1385.16,780.02L1386.31,780.28L1387.46,780.54L1388.61,780.81L1389.76,781.09L1390.91,781.36L1392.06,781.65L1393.21,781.94L1394.36,782.23L1395.51,782.53L1396.66,782.83L1397.81,783.14L1398.95,783.45L1400.10,783.77L1401.25,784.09L1402.40,784.42L1403.55,784.75L1404.70,785.09L1405.85,785.43L1407.00,785.77L1408.15,786.12L1409.30,786.48L1410.45,786.83L1411.60,787.20L1412.75,787.57L1413.90,787.94L1415.05,788.32L1416.19,788.70L1417.34,789.08L1418.49,789.47L1419.64,789.87L1420.79,790.27L1421.94,790.67L1423.09,791.08L1424.24,791.49L1425.39,791.91L1426.54,792.33L1427.69,792.76L1428.84,793.19L1429.99,793.62L1431.14,794.06L1432.28,794.50L1433.43,794.95L1434.58,795.40L1435.73,795.86L1436.88,796.32L1438.03,796.78L1439.18,797.25L1440.33,797.72L1441.48,798.20L1442.63,798.68L1443.78,799.16L1444.93,799.65L1446.08,800.14L1447.23,800.64L1448.37,801.14L1449.52,801.65L1450.67,802.16L1451.82,802.67L1452.97,803.19L1454.12,803.71L1455.27,804.23L1456.42,804.76L1457.57,805.29L1458.72,805.83L1459.87,806.37L1461.02,806.91L1462.17,807.46L1463.32,808.01L1464.47,808.56L1465.61,809.12L1466.76,809.68L1467.91,810.25L1469.06,810.82L1470.21,811.39L1471.36,811.97L1472.51,812.55L1473.66,813.13L1474.81,813.72L1475.96,814.31L1477.11,814.91L1478.26,815.50L1479.41,816.11L1480.56,816.71L1481.70,817.32L1482.85,817.93L1484.00,818.55L1485.15,819.16L1486.30,819.78L1487.45,820.41L1488.60,821.04L1489.75,821.67L1490.90,822.30L1492.05,822.94L1493.20,823.58L1494.35,824.22L1495.50,824.87L1496.65,825.52L1497.79,826.17L1498.94,826.83L1500.09,827.49L1501.24,828.15L1502.39,828.81L1503.54,829.48L1504.69,830.15L1505.84,830.82L1506.99,831.50L1508.14,832.18L1509.29,832.86L1510.44,833.55L1511.59,834.23L1512.74,834.92L1513.89,835.62L1515.03,836.31L1516.18,837.01L1517.33,837.71L1518.48,838.41L1519.63,839.12L1520.78,839.82L1521.93,840.53L1523.08,841.25L1524.23,841.96L1525.38,842.68L1526.53,843.40L1527.68,844.12L1528.83,844.85L1529.98,845.57L1531.12,846.30L1532.27,847.03L1533.42,847.77L1534.57,848.50L1535.72,849.24L1536.87,849.98L1538.02,850.72L1539.17,851.47L1540.32,852.21L1541.47,852.96L1542.62,853.71L1543.77,854.46L1544.92,855.22L1546.07,855.97L1547.22,856.73L1548.36,857.49L1549.51,858.25L1550.66,859.01L1551.81,859.78L1552.96,860.54L1554.11,861.31L1555.26,862.08L1556.41,862.85L1557.56,863.62L1558.71,864.40L1559.86,865.17L1561.01,865.95L1562.16,866.73L1563.31,867.51L1564.45,868.29L1565.60,869.07L1566.75,869.85L1567.90,870.64L1569.05,871.43L1570.20,872.21L1571.35,873.00L1572.50,873.79L1573.65,874.58L1574.80,875.38L1575.95,876.17L1577.10,876.96L1578.25,877.76L1579.40,878.55L1580.54,879.35L1581.69,880.15L1582.84,880.95L1583.99,881.75L1585.14,882.55L1586.29,883.35L1587.44,884.15L1588.59,884.96L1589.74,885.76L1590.89,886.56L1592.04,887.37L1593.19,888.17L1594.34,888.98L1595.49,889.79L1596.64,890.59L1597.78,891.40L1598.93,892.21L1600.08,893.02L1601.23,893.82L1602.38,894.63L1603.53,895.44L1604.68,896.25L1605.83,897.06L1606.98,897.87L1608.13,898.68L1609.28,899.49L1610.43,900.30L1611.58,901.11L1612.73,901.92" stroke="#0000ff" stroke-width="4.5" stroke-dasharray="28 15"/><path d="M176.73,-42.16L177.45,1160.63L178.25,639.51L180.61,738.07" stroke="#0000ff" stroke-width="4.5"/><path d="M197.10,1025.38H213.70V1041.98H197.10ZM245.95,785.60H262.55V802.20H245.95ZM294.79,794.03H311.39V810.63H294.79ZM343.64,819.77H360.24V836.37H343.64ZM392.48,850.29H409.08V866.89H392.48ZM441.33,883.89H457.93V900.49H441.33ZM490.18,918.19H506.78V934.79H490.18ZM539.02,950.78H555.62V967.38H539.02ZM587.87,979.34H604.47V995.94H587.87ZM636.71,1004.46H653.31V1021.06H636.71ZM685.56,1016.72H702.16V1033.32H685.56ZM734.40,1022.90H751.00V1039.50H734.40ZM783.25,1019.93H799.85V1036.53H783.25ZM832.09,1008.04H848.69V1024.64H832.09ZM880.94,988.07H897.54V1004.67H880.94ZM929.78,961.44H946.38V978.04H929.78ZM978.63,930.02H995.23V946.62H978.63ZM1027.47,896.06H1044.07V912.66H1027.47ZM1076.32,861.95H1092.92V878.55H1076.32ZM1125.17,830.11H1141.77V846.71H1125.17ZM1174.01,802.81H1190.61V819.41H1174.01ZM1222.86,781.97H1239.46V798.57H1222.86ZM1271.70,769.07H1288.30V785.67H1271.70ZM1320.55,765.04H1337.15V781.64H1320.55ZM1369.39,770.14H1385.99V786.74H1369.39ZM1418.24,784.03H1434.84V800.63H1418.24ZM1467.08,805.72H1483.68V822.32H1467.08ZM1515.93,833.66H1532.53V850.26H1515.93ZM1564.77,865.89H1581.37V882.49H1564.77Z" stroke="#0000ff" stroke-width="4.4" stroke-linejoin="miter"/><path d="M176.67,902.33L176.81,279.78L177.68,1072.34L178.25,532.74L178.97,738.07L180.18,850.59L182.42,918.76L184.43,959.82L186.15,1000.89L187.59,1029.63L189.60,1050.16L193.16,1060.02L196.78,1058.38L201.45,1054.40L201.88,1053.03L202.31,1051.65L202.74,1050.26L203.17,1048.86L203.60,1047.46L204.04,1046.04L204.47,1044.61L204.90,1043.17L205.33,1041.71L205.76,1040.24L206.19,1038.76L206.62,1037.29L207.05,1035.83L207.48,1034.39L207.91,1033.00L208.35,1031.63L208.78,1030.23L209.21,1028.79L209.64,1027.27L210.07,1025.64L210.50,1023.93L210.93,1022.15L211.36,1020.28L211.79,1018.30L212.22,1016.20L212.66,1013.96L213.09,1011.51L213.52,1008.65L213.95,1005.56L214.38,1002.46L214.81,999.55L215.24,996.82L215.67,994.15L216.10,991.39L216.53,988.41L216.96,985.14L217.40,981.61L217.83,977.92L218.26,974.12L218.69,970.19L219.12,966.09L219.55,961.90L219.98,957.68L220.41,953.50L220.84,949.29L221.27,944.98L221.71,940.47L222.14,935.55L222.57,930.25L223.00,924.99L223.43,920.20L223.86,916.04L224.29,912.23L224.72,908.59L225.15,904.93L225.58,901.07L226.02,896.94L226.45,892.65L226.88,888.37L227.31,884.21L227.74,880.31L228.17,876.58L228.60,872.97L229.03,869.45L229.46,865.99L229.89,862.48L230.33,858.95L230.76,855.53L231.19,852.37L231.62,849.58L232.05,847.16L232.48,844.97L232.91,842.92L233.34,840.89L233.77,838.79L234.20,836.55L234.64,834.26L235.07,831.98L235.50,829.76L235.93,827.63L236.36,825.54L236.79,823.51L237.22,821.56L237.65,819.67L238.08,817.73L238.51,815.77L238.95,813.84L239.38,811.98L239.81,810.21L240.24,808.58L240.67,807.13L241.10,805.90L241.53,804.91L241.96,804.13L242.39,803.44L242.82,802.73L243.26,801.90L243.69,801.03L244.12,800.18L244.55,799.44L244.98,798.82L245.41,798.25L245.84,797.72L246.27,797.22L246.70,796.72L247.13,796.23L247.57,795.75L248.00,795.31L248.43,794.90L248.86,794.55L249.29,794.23L249.72,793.94L250.15,793.66L250.58,793.38L251.01,793.08L251.44,792.78L251.88,792.48L252.31,792.18L252.74,791.86L253.17,791.52L253.60,791.16L254.03,790.81L254.46,790.49L254.89,790.23L255.32,789.99L255.75,789.77L256.18,789.56L256.62,789.39L257.05,789.24L257.48,789.12L257.91,789.02L258.34,788.92L258.77,788.83L259.20,788.76L259.63,788.70L260.06,788.65L260.49,788.62L260.93,788.60L261.36,788.58L261.79,788.55L262.22,788.53L262.65,788.49L263.08,788.44L263.51,788.38L263.94,788.32L264.37,788.27L264.80,788.23L265.24,788.21L265.67,788.18L266.10,788.16L266.53,788.14L266.96,788.13L267.39,788.11L267.82,788.10L268.25,788.09L268.68,788.09L269.11,788.09L269.55,788.12L269.98,788.17L270.41,788.24L270.84,788.32L271.27,788.41L271.70,788.50L272.13,788.60L272.56,788.71L272.99,788.83L273.42,788.97L273.86,789.13L274.29,789.30L274.72,789.50L275.15,789.74L275.58,789.99L276.01,790.24L276.44,790.47L276.87,790.71L277.30,790.95L277.73,791.19L278.17,791.41L278.60,791.62L279.03,791.79L279.46,791.93L279.89,792.06L280.32,792.18L280.75,792.28L281.18,792.39L281.61,792.49L282.04,792.60L282.48,792.73L282.91,792.87L283.34,793.02L283.77,793.18L284.20,793.35L284.63,793.52L285.06,793.69L285.49,793.85L285.92,794.00L286.35,794.13L286.79,794.26L287.22,794.38L287.65,794.50L288.08,794.62L288.51,794.73L288.94,794.85L289.37,794.96L289.80,795.07L290.23,795.18L290.66,795.28L291.10,795.39L291.53,795.50L291.96,795.61L292.39,795.73L292.82,795.85L293.25,795.97L293.68,796.10L294.11,796.22L294.54,796.35L294.97,796.48L295.40,796.62L295.84,796.75L296.27,796.88L296.70,797.01L297.13,797.15L297.56,797.28L297.99,797.42L298.42,797.56L298.85,797.71L299.28,797.86L299.71,798.01L300.15,798.17L300.58,798.33L301.01,798.50L301.44,798.67L301.87,798.87L302.30,799.07L302.73,799.28L303.16,799.50L303.59,799.72L304.02,799.94L304.46,800.16L304.89,800.38L305.32,800.59L305.75,800.80L306.18,800.99L306.61,801.16L307.04,801.33L307.47,801.49L307.90,801.64L308.33,801.78L308.77,801.92L309.07,802.02L310.22,802.61L311.37,803.21L312.52,803.81L313.67,804.42L314.82,805.03L315.97,805.64L317.11,806.25L318.26,806.87L319.41,807.49L320.56,808.11L321.71,808.74L322.86,809.36L324.01,809.99L325.16,810.63L326.31,811.26L327.46,811.90L328.61,812.54L329.76,813.19L330.91,813.84L332.06,814.49L333.21,815.14L334.35,815.79L335.50,816.45L336.65,817.11L337.80,817.77L338.95,818.44L340.10,819.11L341.25,819.78L342.40,820.45L343.55,821.13L344.70,821.81L345.85,822.49L347.00,823.17L348.15,823.86L349.30,824.55L350.44,825.24L351.59,825.93L352.74,826.63L353.89,827.33L355.04,828.03L356.19,828.73L357.34,829.43L358.49,830.14L359.64,830.85L360.79,831.56L361.94,832.28L363.09,833.00L364.24,833.71L365.39,834.44L366.54,835.16L367.68,835.88L368.83,836.61L369.98,837.34L371.13,838.07L372.28,838.81L373.43,839.54L374.58,840.28L375.73,841.02L376.88,841.76L378.03,842.51L379.18,843.25L380.33,844.00L381.48,844.75L382.63,845.50L383.77,846.26L384.92,847.01L386.07,847.77L387.22,848.53L388.37,849.29L389.52,850.05L390.67,850.82L391.82,851.58L392.97,852.35L394.12,853.12L395.27,853.89L396.42,854.66L397.57,855.44L398.72,856.21L399.86,856.99L401.01,857.77L402.16,858.55L403.31,859.33L404.46,860.11L405.61,860.90L406.76,861.68L407.91,862.47L409.06,863.26L410.21,864.05L411.36,864.84L412.51,865.63L413.66,866.42L414.81,867.22L415.96,868.01L417.10,868.81L418.25,869.61L419.40,870.40L420.55,871.20L421.70,872.00L422.85,872.81L424.00,873.61L425.15,874.41L426.30,875.22L427.45,876.02L428.60,876.83L429.75,877.64L430.90,878.44L432.05,879.25L433.19,880.06L434.34,880.87L435.49,881.68L436.64,882.49L437.79,883.30L438.94,884.12L440.09,884.93L441.24,885.74L442.39,886.56L443.54,887.37L444.69,888.18L445.84,889.00L446.99,889.82L448.14,890.63L449.28,891.45L450.43,892.26L451.58,893.08L452.73,893.90L453.88,894.71L455.03,895.53L456.18,896.35L457.33,897.17L458.48,897.98L459.63,898.80L460.78,899.62L461.93,900.44L463.08,901.25L464.23,902.07L465.38,902.89L466.52,903.71L467.67,904.52L468.82,905.34L469.97,906.16L471.12,906.97L472.27,907.79L473.42,908.60L474.57,909.42L475.72,910.23L476.87,911.05L478.02,911.86L479.17,912.68L480.32,913.49L481.47,914.30L482.61,915.11L483.76,915.92L484.91,916.74L486.06,917.55L487.21,918.35L488.36,919.16L489.51,919.97L490.66,920.78L491.81,921.58L492.96,922.39L494.11,923.19L495.26,924.00L496.41,924.80L497.56,925.60L498.70,926.40L499.85,927.20L501.00,928.00L502.15,928.80L503.30,929.60L504.45,930.39L505.60,931.18L506.75,931.98L507.90,932.77L509.05,933.56L510.20,934.35L511.35,935.14L512.50,935.92L513.65,936.71L514.80,937.49L515.94,938.27L517.09,939.05L518.24,939.83L519.39,940.61L520.54,941.39L521.69,942.16L522.84,942.93L523.99,943.71L525.14,944.47L526.29,945.24L527.44,946.01L528.59,946.77L529.74,947.53L530.89,948.30L532.03,949.05L533.18,949.81L534.33,950.57L535.48,951.32L536.63,952.07L537.78,952.82L538.93,953.57L540.08,954.31L541.23,955.05L542.38,955.79L543.53,956.53L544.68,957.27L545.83,958.00L546.98,958.73L548.13,959.46L549.27,960.19L550.42,960.92L551.57,961.64L552.72,962.36L553.87,963.08L555.02,963.79L556.17,964.51L557.32,965.22L558.47,965.92L559.62,966.63L560.77,967.33L561.92,968.03L563.07,968.73L564.22,969.43L565.36,970.12L566.51,970.81L567.66,971.49L568.81,972.18L569.96,972.86L571.11,973.54L572.26,974.21L573.41,974.89L574.56,975.56L575.71,976.22L576.86,976.89L578.01,977.55L579.16,978.21L580.31,978.86L581.45,979.51L582.60,980.16L583.75,980.81L584.90,981.45L586.05,982.09L587.20,982.73L588.35,983.36L589.50,983.99L590.65,984.62L591.80,985.24L592.95,985.86L594.10,986.48L595.25,987.09L596.40,987.70L597.55,988.31L598.69,988.91L599.84,989.51L600.99,990.11L602.14,990.70L603.29,991.29L604.44,991.87L605.59,992.46L606.74,993.04L607.89,993.61L609.04,994.18L610.19,994.75L611.34,995.31L612.49,995.88L613.64,996.43L614.78,996.99L615.93,997.53L617.08,998.08L618.23,998.62L619.38,999.16L620.53,999.69L621.68,1000.22L622.83,1000.75L623.98,1001.27L625.13,1001.79L626.28,1002.31L627.43,1002.82L628.58,1003.32L629.73,1003.83L630.87,1004.33L632.02,1004.82L633.17,1005.31L634.32,1005.80L635.47,1006.28L636.62,1006.76L637.77,1007.23L638.92,1007.70L640.07,1008.17L641.22,1008.63L642.37,1009.09L643.52,1009.54L644.67,1009.99L645.82,1010.43L646.97,1010.87L648.11,1011.31L649.26,1011.74L650.41,1012.17L651.56,1012.59L652.71,1013.01L653.86,1013.43L655.01,1013.84L656.16,1014.24L657.31,1014.64L658.46,1015.04L659.61,1015.43L660.76,1015.82L661.91,1016.20L663.06,1016.58L664.20,1016.96L665.35,1017.33L666.50,1017.69L667.65,1018.05L668.80,1018.41L669.95,1018.76L671.10,1019.11L672.25,1019.45L673.40,1019.79L674.55,1020.12L675.70,1020.45L676.85,1020.77L678.00,1021.09L679.15,1021.40L680.30,1021.71L681.44,1022.02L682.59,1022.32L683.74,1022.61L684.89,1022.91L686.04,1023.19L687.19,1023.47L688.34,1023.75L689.49,1024.02L690.64,1024.29L691.79,1024.55L692.94,1024.81L694.09,1025.06L695.24,1025.31L696.39,1025.55L697.53,1025.79L698.68,1026.02L699.83,1026.25L700.98,1026.47L702.13,1026.69L703.28,1026.90L704.43,1027.11L705.58,1027.31L706.73,1027.51L707.88,1027.70L709.03,1027.89L710.18,1028.08L711.33,1028.25L712.48,1028.43L713.62,1028.60L714.77,1028.76L715.92,1028.92L717.07,1029.07L718.22,1029.22L719.37,1029.36L720.52,1029.50L721.67,1029.64L722.82,1029.76L723.97,1029.89L725.12,1030.01L726.27,1030.12L727.42,1030.23L728.57,1030.33L729.72,1030.43L730.86,1030.52L732.01,1030.61L733.16,1030.69L734.31,1030.77L735.46,1030.85L736.61,1030.91L737.76,1030.98L738.91,1031.03L740.06,1031.09L741.21,1031.13L742.36,1031.18L743.51,1031.21L744.66,1031.25L745.81,1031.27L746.95,1031.29L748.10,1031.31L749.25,1031.32L750.40,1031.33L751.55,1031.33L752.70,1031.33L753.85,1031.32L755.00,1031.31L756.15,1031.29L757.30,1031.26L758.45,1031.23L759.60,1031.20L760.75,1031.16L761.90,1031.12L763.04,1031.07L764.19,1031.01L765.34,1030.95L766.49,1030.89L767.64,1030.82L768.79,1030.75L769.94,1030.67L771.09,1030.58L772.24,1030.49L773.39,1030.40L774.54,1030.30L775.69,1030.19L776.84,1030.08L777.99,1029.97L779.14,1029.85L780.28,1029.72L781.43,1029.59L782.58,1029.46L783.73,1029.31L784.88,1029.17L786.03,1029.02L787.18,1028.86L788.33,1028.70L789.48,1028.54L790.63,1028.37L791.78,1028.19L792.93,1028.01L794.08,1027.83L795.23,1027.64L796.37,1027.44L797.52,1027.24L798.67,1027.04L799.82,1026.83L800.97,1026.61L802.12,1026.39L803.27,1026.17L804.42,1025.94L805.57,1025.70L806.72,1025.46L807.87,1025.22L809.02,1024.97L810.17,1024.72L811.32,1024.46L812.46,1024.20L813.61,1023.93L814.76,1023.65L815.91,1023.38L817.06,1023.09L818.21,1022.81L819.36,1022.51L820.51,1022.22L821.66,1021.92L822.81,1021.61L823.96,1021.30L825.11,1020.98L826.26,1020.66L827.41,1020.34L828.56,1020.01L829.70,1019.67L830.85,1019.33L832.00,1018.99L833.15,1018.64L834.30,1018.29L835.45,1017.93L836.60,1017.57L837.75,1017.20L838.90,1016.83L840.05,1016.46L841.20,1016.08L842.35,1015.69L843.50,1015.30L844.65,1014.91L845.79,1014.51L846.94,1014.11L848.09,1013.70L849.24,1013.29L850.39,1012.87L851.54,1012.45L852.69,1012.03L853.84,1011.60L854.99,1011.17L856.14,1010.73L857.29,1010.29L858.44,1009.84L859.59,1009.39L860.74,1008.94L861.89,1008.48L863.03,1008.02L864.18,1007.55L865.33,1007.08L866.48,1006.60L867.63,1006.12L868.78,1005.64L869.93,1005.15L871.08,1004.66L872.23,1004.17L873.38,1003.67L874.53,1003.16L875.68,1002.66L876.83,1002.14L877.98,1001.63L879.12,1001.11L880.27,1000.59L881.42,1000.06L882.57,999.53L883.72,998.99L884.87,998.45L886.02,997.91L887.17,997.37L888.32,996.82L889.47,996.26L890.62,995.70L891.77,995.14L892.92,994.58L894.07,994.01L895.21,993.44L896.36,992.86L897.51,992.28L898.66,991.70L899.81,991.11L900.96,990.52L902.11,989.93L903.26,989.33L904.41,988.73L905.56,988.13L906.71,987.52L907.86,986.91L909.01,986.30L910.16,985.68L911.31,985.06L912.45,984.44L913.60,983.81L914.75,983.18L915.90,982.55L917.05,981.91L918.20,981.27L919.35,980.63L920.50,979.98L921.65,979.33L922.80,978.68L923.95,978.03L925.10,977.37L926.25,976.71L927.40,976.05L928.54,975.38L929.69,974.71L930.84,974.04L931.99,973.36L933.14,972.68L934.29,972.00L935.44,971.32L936.59,970.63L937.74,969.94L938.89,969.25L940.04,968.56L941.19,967.86L942.34,967.16L943.49,966.46L944.63,965.75L945.78,965.05L946.93,964.34L948.08,963.63L949.23,962.91L950.38,962.19L951.53,961.48L952.68,960.75L953.83,960.03L954.98,959.30L956.13,958.58L957.28,957.85L958.43,957.11L959.58,956.38L960.73,955.64L961.87,954.90L963.02,954.16L964.17,953.42L965.32,952.67L966.47,951.92L967.62,951.17L968.77,950.42L969.92,949.67L971.07,948.92L972.22,948.16L973.37,947.40L974.52,946.64L975.67,945.88L976.82,945.11L977.96,944.35L979.11,943.58L980.26,942.81L981.41,942.04L982.56,941.27L983.71,940.50L984.86,939.72L986.01,938.94L987.16,938.17L988.31,937.39L989.46,936.61L990.61,935.82L991.76,935.04L992.91,934.26L994.06,933.47L995.20,932.68L996.35,931.89L997.50,931.10L998.65,930.31L999.80,929.52L1000.95,928.73L1002.10,927.94L1003.25,927.14L1004.40,926.34L1005.55,925.55L1006.70,924.75L1007.85,923.95L1009.00,923.15L1010.15,922.35L1011.29,921.55L1012.44,920.75L1013.59,919.95L1014.74,919.14L1015.89,918.34L1017.04,917.53L1018.19,916.73L1019.34,915.92L1020.49,915.12L1021.64,914.31L1022.79,913.50L1023.94,912.69L1025.09,911.89L1026.24,911.08L1027.38,910.27L1028.53,909.46L1029.68,908.65L1030.83,907.84L1031.98,907.03L1033.13,906.22L1034.28,905.41L1035.43,904.60L1036.58,903.79L1037.73,902.98L1038.88,902.17L1040.03,901.36L1041.18,900.55L1042.33,899.74L1043.48,898.93L1044.62,898.12L1045.77,897.31L1046.92,896.50L1048.07,895.69L1049.22,894.88L1050.37,894.07L1051.52,893.26L1052.67,892.45L1053.82,891.64L1054.97,890.83L1056.12,890.03L1057.27,889.22L1058.42,888.41L1059.57,887.61L1060.71,886.80L1061.86,886.00L1063.01,885.20L1064.16,884.39L1065.31,883.59L1066.46,882.79L1067.61,881.99L1068.76,881.19L1069.91,880.39L1071.06,879.59L1072.21,878.79L1073.36,878.00L1074.51,877.20L1075.66,876.41L1076.80,875.61L1077.95,874.82L1079.10,874.03L1080.25,873.24L1081.40,872.45L1082.55,871.66L1083.70,870.88L1084.85,870.09L1086.00,869.31L1087.15,868.52L1088.30,867.74L1089.45,866.96L1090.60,866.18L1091.75,865.40L1092.90,864.63L1094.04,863.85L1095.19,863.08L1096.34,862.31L1097.49,861.54L1098.64,860.77L1099.79,860.01L1100.94,859.24L1102.09,858.48L1103.24,857.72L1104.39,856.96L1105.54,856.20L1106.69,855.44L1107.84,854.69L1108.99,853.94L1110.13,853.18L1111.28,852.44L1112.43,851.69L1113.58,850.95L1114.73,850.20L1115.88,849.46L1117.03,848.72L1118.18,847.99L1119.33,847.25L1120.48,846.52L1121.63,845.79L1122.78,845.06L1123.93,844.34L1125.08,843.62L1126.22,842.90L1127.37,842.18L1128.52,841.46L1129.67,840.75L1130.82,840.04L1131.97,839.33L1133.12,838.62L1134.27,837.92L1135.42,837.22L1136.57,836.52L1137.72,835.82L1138.87,835.13L1140.02,834.44L1141.17,833.75L1142.32,833.07L1143.46,832.38L1144.61,831.70L1145.76,831.03L1146.91,830.35L1148.06,829.68L1149.21,829.01L1150.36,828.35L1151.51,827.69L1152.66,827.03L1153.81,826.37L1154.96,825.72L1156.11,825.06L1157.26,824.42L1158.41,823.77L1159.55,823.13L1160.70,822.49L1161.85,821.86L1163.00,821.23L1164.15,820.60L1165.30,819.97L1166.45,819.35L1167.60,818.73L1168.75,818.11L1169.90,817.50L1171.05,816.89L1172.20,816.29L1173.35,815.68L1174.50,815.09L1175.65,814.49L1176.79,813.90L1177.94,813.31L1179.09,812.73L1180.24,812.14L1181.39,811.57L1182.54,810.99L1183.69,810.42L1184.84,809.85L1185.99,809.29L1187.14,808.73L1188.29,808.18L1189.44,807.62L1190.59,807.07L1191.74,806.53L1192.88,805.99L1194.03,805.45L1195.18,804.92L1196.33,804.39L1197.48,803.86L1198.63,803.34L1199.78,802.82L1200.93,802.31L1202.08,801.80L1203.23,801.29L1204.38,800.79L1205.53,800.29L1206.68,799.80L1207.83,799.31L1208.97,798.82L1210.12,798.34L1211.27,797.86L1212.42,797.39L1213.57,796.92L1214.72,796.46L1215.87,795.99L1217.02,795.54L1218.17,795.09L1219.32,794.64L1220.47,794.19L1221.62,793.75L1222.77,793.32L1223.92,792.89L1225.07,792.46L1226.21,792.04L1227.36,791.62L1228.51,791.20L1229.66,790.79L1230.81,790.39L1231.96,789.99L1233.11,789.59L1234.26,789.20L1235.41,788.81L1236.56,788.43L1237.71,788.05L1238.86,787.68L1240.01,787.31L1241.16,786.94L1242.30,786.58L1243.45,786.23L1244.60,785.88L1245.75,785.53L1246.90,785.19L1248.05,784.85L1249.20,784.52L1250.35,784.19L1251.50,783.87L1252.65,783.55L1253.80,783.23L1254.95,782.92L1256.10,782.62L1257.25,782.32L1258.39,782.03L1259.54,781.73L1260.69,781.45L1261.84,781.17L1262.99,780.89L1264.14,780.62L1265.29,780.35L1266.44,780.09L1267.59,779.84L1268.74,779.58L1269.89,779.34L1271.04,779.10L1272.19,778.86L1273.34,778.63L1274.49,778.40L1275.63,778.18L1276.78,777.96L1277.93,777.74L1279.08,777.54L1280.23,777.33L1281.38,777.14L1282.53,776.94L1283.68,776.75L1284.83,776.57L1285.98,776.39L1287.13,776.22L1288.28,776.05L1289.43,775.89L1290.58,775.73L1291.72,775.58L1292.87,775.43L1294.02,775.28L1295.17,775.15L1296.32,775.01L1297.47,774.88L1298.62,774.76L1299.77,774.64L1300.92,774.53L1302.07,774.42L1303.22,774.32L1304.37,774.22L1305.52,774.13L1306.67,774.04L1307.81,773.96L1308.96,773.88L1310.11,773.81L1311.26,773.74L1312.41,773.67L1313.56,773.62L1314.71,773.56L1315.86,773.52L1317.01,773.48L1318.16,773.44L1319.31,773.41L1320.46,773.38L1321.61,773.36L1322.76,773.34L1323.91,773.33L1325.05,773.32L1326.20,773.32L1327.35,773.32L1328.50,773.33L1329.65,773.35L1330.80,773.37L1331.95,773.39L1333.10,773.42L1334.25,773.45L1335.40,773.49L1336.55,773.54L1337.70,773.59L1338.85,773.64L1340.00,773.70L1341.14,773.76L1342.29,773.83L1343.44,773.91L1344.59,773.99L1345.74,774.07L1346.89,774.16L1348.04,774.26L1349.19,774.36L1350.34,774.46L1351.49,774.57L1352.64,774.69L1353.79,774.81L1354.94,774.93L1356.09,775.06L1357.24,775.20L1358.38,775.34L1359.53,775.49L1360.68,775.64L1361.83,775.79L1362.98,775.95L1364.13,776.12L1365.28,776.29L1366.43,776.46L1367.58,776.64L1368.73,776.83L1369.88,777.02L1371.03,777.21L1372.18,777.41L1373.33,777.62L1374.47,777.83L1375.62,778.04L1376.77,778.26L1377.92,778.49L1379.07,778.72L1380.22,778.95L1381.37,779.19L1382.52,779.44L1383.67,779.68L1384.82,779.94L1385.97,780.20L1387.12,780.46L1388.27,780.73L1389.42,781.00L1390.56,781.28L1391.71,781.56L1392.86,781.85L1394.01,782.14L1395.16,782.44L1396.31,782.74L1397.46,783.05L1398.61,783.36L1399.76,783.67L1400.91,784.00L1402.06,784.32L1403.21,784.65L1404.36,784.98L1405.51,785.32L1406.66,785.67L1407.80,786.02L1408.95,786.37L1410.10,786.73L1411.25,787.09L1412.40,787.46L1413.55,787.83L1414.70,788.20L1415.85,788.58L1417.00,788.97L1418.15,789.36L1419.30,789.75L1420.45,790.15L1421.60,790.55L1422.75,790.96L1423.89,791.37L1425.04,791.78L1426.19,792.20L1427.34,792.63L1428.49,793.06L1429.64,793.49L1430.79,793.93L1431.94,794.37L1433.09,794.82L1434.24,795.27L1435.39,795.72L1436.54,796.18L1437.69,796.64L1438.84,797.11L1439.98,797.58L1441.13,798.05L1442.28,798.53L1443.43,799.02L1444.58,799.50L1445.73,800.00L1446.88,800.49L1448.03,800.99L1449.18,801.50L1450.33,802.00L1451.48,802.51L1452.63,803.03L1453.78,803.55L1454.93,804.07L1456.08,804.60L1457.22,805.13L1458.37,805.67L1459.52,806.20L1460.67,806.75L1461.82,807.29L1462.97,807.84L1464.12,808.40L1465.27,808.95L1466.42,809.52L1467.57,810.08L1468.72,810.65L1469.87,811.22L1471.02,811.80L1472.17,812.38L1473.31,812.96L1474.46,813.55L1475.61,814.14L1476.76,814.73L1477.91,815.33L1479.06,815.93L1480.21,816.53L1481.36,817.14L1482.51,817.75L1483.66,818.36L1484.81,818.98L1485.96,819.60L1487.11,820.22L1488.26,820.85L1489.41,821.48L1490.55,822.11L1491.70,822.75L1492.85,823.39L1494.00,824.03L1495.15,824.68L1496.30,825.32L1497.45,825.98L1498.60,826.63L1499.75,827.29L1500.90,827.95L1502.05,828.61L1503.20,829.28L1504.35,829.95L1505.50,830.62L1506.64,831.30L1507.79,831.98L1508.94,832.66L1510.09,833.34L1511.24,834.03L1512.39,834.72L1513.54,835.41L1514.69,836.10L1515.84,836.80L1516.99,837.50L1518.14,838.20L1519.29,838.90L1520.44,839.61L1521.59,840.32L1522.73,841.03L1523.88,841.75L1525.03,842.46L1526.18,843.18L1527.33,843.91L1528.48,844.63L1529.63,845.36L1530.78,846.08L1531.93,846.81L1533.08,847.55L1534.23,848.28L1535.38,849.02L1536.53,849.76L1537.68,850.50L1538.83,851.24L1539.97,851.99L1541.12,852.74L1542.27,853.48L1543.42,854.24L1544.57,854.99L1545.72,855.74L1546.87,856.50L1548.02,857.26L1549.17,858.02L1550.32,858.78L1551.47,859.55L1552.62,860.31L1553.77,861.08L1554.92,861.85L1556.06,862.62L1557.21,863.39L1558.36,864.16L1559.51,864.94L1560.66,865.72L1561.81,866.49L1562.96,867.27L1564.11,868.05L1565.26,868.84L1566.41,869.62L1567.56,870.40L1568.71,871.19L1569.86,871.98L1571.01,872.77L1572.15,873.55L1573.30,874.35L1574.45,875.14L1575.60,875.93L1576.75,876.72L1577.90,877.52L1579.05,878.32L1580.20,879.11L1581.35,879.91L1582.50,880.71L1583.65,881.51L1584.80,882.31L1585.95,883.11L1587.10,883.91L1588.25,884.71L1589.39,885.52L1590.54,886.32L1591.69,887.13L1592.84,887.93L1593.99,888.74L1595.14,889.54L1596.29,890.35L1597.44,891.16L1598.59,891.97L1599.74,892.77L1600.89,893.58L1602.04,894.39L1603.19,895.20L1604.34,896.01L1605.48,896.82L1606.63,897.63L1607.78,898.44L1608.93,899.25L1610.08,900.06L1611.23,900.87L1612.38,901.68" stroke="#ff0000" stroke-width="4.6" stroke-dasharray="23 7 7 7"/><path d="M176.67,888.13L186.97,902.33L176.67,916.53L166.37,902.33ZM225.52,888.13L235.82,902.33L225.52,916.53L215.22,902.33ZM274.36,775.13L284.66,789.33L274.36,803.53L264.06,789.33ZM323.21,792.55L333.51,806.75L323.21,820.95L312.91,806.75ZM372.05,829.56L382.35,843.76L372.05,857.96L361.75,843.76ZM420.90,856.04L431.20,870.24L420.90,884.44L410.60,870.24ZM469.74,891.79L480.04,905.99L469.74,920.19L459.44,905.99ZM518.59,930.57L528.89,944.77L518.59,958.97L508.29,944.77ZM567.43,957.16L577.73,971.36L567.43,985.56L557.13,971.36ZM616.28,983.50L626.58,997.70L616.28,1011.90L605.98,997.70ZM665.12,1003.05L675.42,1017.25L665.12,1031.45L654.82,1017.25ZM713.97,1012.25L724.27,1026.45L713.97,1040.65L703.67,1026.45ZM762.82,1016.88L773.12,1031.08L762.82,1045.28L752.52,1031.08ZM811.66,1010.18L821.96,1024.38L811.66,1038.58L801.36,1024.38ZM860.51,994.83L870.81,1009.03L860.51,1023.23L850.21,1009.03ZM909.35,971.91L919.65,986.11L909.35,1000.31L899.05,986.11ZM958.20,943.06L968.50,957.26L958.20,971.46L947.90,957.26ZM1007.04,910.31L1017.34,924.51L1007.04,938.71L996.74,924.51ZM1055.89,875.99L1066.19,890.19L1055.89,904.39L1045.59,890.19ZM1104.73,842.53L1115.03,856.73L1104.73,870.93L1094.43,856.73ZM1153.58,812.30L1163.88,826.50L1153.58,840.70L1143.28,826.50ZM1202.42,787.45L1212.72,801.65L1202.42,815.85L1192.12,801.65ZM1251.27,769.73L1261.57,783.93L1251.27,798.13L1240.97,783.93ZM1300.11,760.41L1310.41,774.61L1300.11,788.81L1289.81,774.61ZM1348.96,760.14L1359.26,774.34L1348.96,788.54L1338.66,774.34ZM1397.81,771.44L1408.11,785.64L1397.81,799.84L1387.51,785.64ZM1446.65,781.59L1456.95,795.79L1446.65,809.99L1436.35,795.79ZM1495.50,813.87L1505.80,828.07L1495.50,842.27L1485.20,828.07ZM1544.34,840.64L1554.64,854.84L1544.34,869.04L1534.04,854.84ZM1593.19,873.97L1603.49,888.17L1593.19,902.37L1582.89,888.17Z" stroke="#ff0000" stroke-width="4.5" stroke-linejoin="miter" stroke-miterlimit="10"/><path d="M176.67,773.32L179.54,773.34L182.42,773.38L185.29,773.46L188.16,773.58L191.04,773.72L193.91,773.89L196.78,774.10L199.66,774.34L202.53,774.61L205.40,774.91L208.28,775.24L211.15,775.61L214.02,776.00L216.90,776.43L219.77,776.89L222.64,777.37L225.52,777.89L228.39,778.44L231.26,779.02L234.14,779.63L237.01,780.28L239.88,780.95L242.75,781.65L245.63,782.38L248.50,783.14L251.37,783.93L254.25,784.75L257.12,785.60L259.99,786.48L262.87,787.38L265.74,788.32L268.61,789.28L271.49,790.27L274.36,791.29L277.23,792.33L280.11,793.40L282.98,794.50L285.85,795.63L288.73,796.78L291.60,797.96L294.47,799.16L297.35,800.39L300.22,801.65L303.09,802.93L305.97,804.23L308.84,805.56L311.71,806.91L314.59,808.29L317.46,809.68L320.33,811.11L323.21,812.55L326.08,814.02L328.95,815.50L331.83,817.01L334.70,818.55L337.57,820.10L340.45,821.67L343.32,823.26L346.19,824.87L349.07,826.50L351.94,828.15L354.81,829.82L357.69,831.50L360.56,833.20L363.43,834.92L366.31,836.66L369.18,838.41L372.05,840.18L374.92,841.96L377.80,843.76L380.67,845.57L383.54,847.40L386.42,849.24L389.29,851.09L392.16,852.96L395.04,854.84L397.91,856.73L400.78,858.63L403.66,860.54L406.53,862.46L409.40,864.40L412.28,866.34L415.15,868.29L418.02,870.25L420.90,872.21L423.77,874.19L426.64,876.17L429.52,878.16L432.39,880.15L435.26,882.15L438.14,884.15L441.01,886.16L443.88,888.17L446.76,890.19L449.63,892.21L452.50,894.23L455.38,896.25L458.25,898.28L461.12,900.30L464.00,902.33L466.87,904.36L469.74,906.38L472.62,908.41L475.49,910.43L478.36,912.45L481.24,914.47L484.11,916.49L486.98,918.50L489.86,920.51L492.73,922.51L495.60,924.51L498.48,926.50L501.35,928.49L504.22,930.47L507.09,932.45L509.97,934.41L512.84,936.37L515.71,938.32L518.59,940.26L521.46,942.20L524.33,944.12L527.21,946.03L530.08,947.93L532.95,949.82L535.83,951.70L538.70,953.57L541.57,955.42L544.45,957.26L547.32,959.09L550.19,960.90L553.07,962.70L555.94,964.48L558.81,966.25L561.69,968.00L564.56,969.74L567.43,971.46L570.31,973.16L573.18,974.84L576.05,976.51L578.93,978.16L581.80,979.79L584.67,981.40L587.55,982.99L590.42,984.56L593.29,986.11L596.17,987.65L599.04,989.16L601.91,990.64L604.79,992.11L607.66,993.55L610.53,994.98L613.41,996.37L616.28,997.75L619.15,999.10L622.03,1000.43L624.90,1001.73L627.77,1003.01L630.65,1004.27L633.52,1005.50L636.39,1006.70L639.26,1007.88L642.14,1009.03L645.01,1010.16L647.88,1011.26L650.76,1012.33L653.63,1013.37L656.50,1014.39L659.38,1015.38L662.25,1016.34L665.12,1017.28L668.00,1018.18L670.87,1019.06L673.74,1019.91L676.62,1020.73L679.49,1021.52L682.36,1022.28L685.24,1023.01L688.11,1023.71L690.98,1024.38L693.86,1025.03L696.73,1025.64L699.60,1026.22L702.48,1026.77L705.35,1027.29L708.22,1027.77L711.10,1028.23L713.97,1028.66L716.84,1029.05L719.72,1029.42L722.59,1029.75L725.46,1030.05L728.34,1030.32L731.21,1030.56L734.08,1030.77L736.96,1030.94L739.83,1031.08L742.70,1031.20L745.58,1031.28L748.45,1031.32L751.32,1031.34L754.20,1031.32L757.07,1031.28L759.94,1031.20L762.82,1031.08L765.69,1030.94L768.56,1030.77L771.43,1030.56L774.31,1030.32L777.18,1030.05L780.05,1029.75L782.93,1029.42L785.80,1029.05L788.67,1028.66L791.55,1028.23L794.42,1027.77L797.29,1027.29L800.17,1026.77L803.04,1026.22L805.91,1025.64L808.79,1025.03L811.66,1024.38L814.53,1023.71L817.41,1023.01L820.28,1022.28L823.15,1021.52L826.03,1020.73L828.90,1019.91L831.77,1019.06L834.65,1018.18L837.52,1017.28L840.39,1016.34L843.27,1015.38L846.14,1014.39L849.01,1013.37L851.89,1012.33L854.76,1011.26L857.63,1010.16L860.51,1009.03L863.38,1007.88L866.25,1006.70L869.13,1005.50L872.00,1004.27L874.87,1003.01L877.75,1001.73L880.62,1000.43L883.49,999.10L886.37,997.75L889.24,996.37L892.11,994.98L894.98,993.55L897.86,992.11L900.73,990.64L903.60,989.16L906.48,987.65L909.35,986.11L912.22,984.56L915.10,982.99L917.97,981.40L920.84,979.79L923.72,978.16L926.59,976.51L929.46,974.84L932.34,973.16L935.21,971.46L938.08,969.74L940.96,968.00L943.83,966.25L946.70,964.48L949.58,962.70L952.45,960.90L955.32,959.09L958.20,957.26L961.07,955.42L963.94,953.57L966.82,951.70L969.69,949.82L972.56,947.93L975.44,946.03L978.31,944.12L981.18,942.20L984.06,940.26L986.93,938.32L989.80,936.37L992.68,934.41L995.55,932.45L998.42,930.47L1001.30,928.49L1004.17,926.50L1007.04,924.51L1009.92,922.51L1012.79,920.51L1015.66,918.50L1018.54,916.49L1021.41,914.47L1024.28,912.45L1027.15,910.43L1030.03,908.41L1032.90,906.38L1035.77,904.36L1038.65,902.33L1041.52,900.30L1044.39,898.28L1047.27,896.25L1050.14,894.23L1053.01,892.21L1055.89,890.19L1058.76,888.17L1061.63,886.16L1064.51,884.15L1067.38,882.15L1070.25,880.15L1073.13,878.16L1076.00,876.17L1078.87,874.19L1081.75,872.21L1084.62,870.25L1087.49,868.29L1090.37,866.34L1093.24,864.40L1096.11,862.46L1098.99,860.54L1101.86,858.63L1104.73,856.73L1107.61,854.84L1110.48,852.96L1113.35,851.09L1116.23,849.24L1119.10,847.40L1121.97,845.57L1124.85,843.76L1127.72,841.96L1130.59,840.18L1133.47,838.41L1136.34,836.66L1139.21,834.92L1142.09,833.20L1144.96,831.50L1147.83,829.82L1150.71,828.15L1153.58,826.50L1156.45,824.87L1159.32,823.26L1162.20,821.67L1165.07,820.10L1167.94,818.55L1170.82,817.01L1173.69,815.50L1176.56,814.02L1179.44,812.55L1182.31,811.11L1185.18,809.68L1188.06,808.29L1190.93,806.91L1193.80,805.56L1196.68,804.23L1199.55,802.93L1202.42,801.65L1205.30,800.39L1208.17,799.16L1211.04,797.96L1213.92,796.78L1216.79,795.63L1219.66,794.50L1222.54,793.40L1225.41,792.33L1228.28,791.29L1231.16,790.27L1234.03,789.28L1236.90,788.32L1239.78,787.38L1242.65,786.48L1245.52,785.60L1248.40,784.75L1251.27,783.93L1254.14,783.14L1257.02,782.38L1259.89,781.65L1262.76,780.95L1265.64,780.28L1268.51,779.63L1271.38,779.02L1274.26,778.44L1277.13,777.89L1280.00,777.37L1282.88,776.89L1285.75,776.43L1288.62,776.00L1291.49,775.61L1294.37,775.24L1297.24,774.91L1300.11,774.61L1302.99,774.34L1305.86,774.10L1308.73,773.89L1311.61,773.72L1314.48,773.58L1317.35,773.46L1320.23,773.38L1323.10,773.34L1325.97,773.32L1328.85,773.34L1331.72,773.38L1334.59,773.46L1337.47,773.58L1340.34,773.72L1343.21,773.89L1346.09,774.10L1348.96,774.34L1351.83,774.61L1354.71,774.91L1357.58,775.24L1360.45,775.61L1363.33,776.00L1366.20,776.43L1369.07,776.89L1371.95,777.37L1374.82,777.89L1377.69,778.44L1380.57,779.02L1383.44,779.63L1386.31,780.28L1389.19,780.95L1392.06,781.65L1394.93,782.38L1397.81,783.14L1400.68,783.93L1403.55,784.75L1406.43,785.60L1409.30,786.48L1412.17,787.38L1415.05,788.32L1417.92,789.28L1420.79,790.27L1423.66,791.29L1426.54,792.33L1429.41,793.40L1432.28,794.50L1435.16,795.63L1438.03,796.78L1440.90,797.96L1443.78,799.16L1446.65,800.39L1449.52,801.65L1452.40,802.93L1455.27,804.23L1458.14,805.56L1461.02,806.91L1463.89,808.29L1466.76,809.68L1469.64,811.11L1472.51,812.55L1475.38,814.02L1478.26,815.50L1481.13,817.01L1484.00,818.55L1486.88,820.10L1489.75,821.67L1492.62,823.26L1495.50,824.87L1498.37,826.50L1501.24,828.15L1504.12,829.82L1506.99,831.50L1509.86,833.20L1512.74,834.92L1515.61,836.66L1518.48,838.41L1521.36,840.18L1524.23,841.96L1527.10,843.76L1529.98,845.57L1532.85,847.40L1535.72,849.24L1538.60,851.09L1541.47,852.96L1544.34,854.84L1547.22,856.73L1550.09,858.63L1552.96,860.54L1555.83,862.46L1558.71,864.40L1561.58,866.34L1564.45,868.29L1567.33,870.25L1570.20,872.21L1573.07,874.19L1575.95,876.17L1578.82,878.16L1581.69,880.15L1584.57,882.15L1587.44,884.15L1590.31,886.16L1593.19,888.17L1596.06,890.19L1598.93,892.21L1601.81,894.23L1604.68,896.25L1607.55,898.28L1610.43,900.30L1613.30,902.33" stroke="#000" stroke-width="4.6" stroke-dasharray="0.01 11" stroke-linecap="round"/></g><g font-family="Liberation Serif, Times New Roman, serif" font-size="59" fill="#262626"><text x="175.50" y="1304" text-anchor="middle">0</text><text x="463.20" y="1304" text-anchor="middle">1</text><text x="750.30" y="1304" text-anchor="middle">2</text><text x="1037.20" y="1304" text-anchor="middle">3</text><text x="1324.60" y="1304" text-anchor="middle">4</text><text x="1611.40" y="1304" text-anchor="middle">5</text><text x="158" y="922.33" text-anchor="end">0</text><text x="158" y="758.07" text-anchor="end">2</text><text x="158" y="593.81" text-anchor="end">4</text><text x="158" y="429.55" text-anchor="end">6</text><text x="158" y="265.29" text-anchor="end">8</text><text x="158" y="101.03" text-anchor="end">10</text><text x="167.5" y="1092.89" text-anchor="end">&#8211;2</text><text x="167.5" y="1257.15" text-anchor="end">&#8211;4</text></g><text x="909.5" y="1343" text-anchor="middle" font-family="Liberation Serif, Times New Roman, serif" font-size="64" fill="#262626">Time (sec)</text><text transform="translate(68.8,635) rotate(-90)" x="0" y="0" text-anchor="middle" font-family="Liberation Serif, Times New Roman, serif" font-size="62.8" fill="#262626">Angular velocity of rotating part (rad/s)</text><rect x="370" y="67" width="1063" height="139" fill="#fff" stroke="#111111" stroke-width="2"/><path d="M380,104.4H490" stroke="#000" stroke-width="4.5"/><path d="M380,168.9H490" stroke="#0000ff" stroke-width="4.5" stroke-dasharray="29 15"/><path d="M427.10,160.60H443.70V177.20H427.10Z" stroke="#0000ff" stroke-width="4.4" fill="none"/><path d="M906,104.4H1017" stroke="#ff0000" stroke-width="4.6" stroke-dasharray="23 7 7 7"/><path d="M961.50,89.80L972.30,104.40L961.50,119.00L950.70,104.40Z" stroke="#ff0000" stroke-width="4.5" fill="none" stroke-miterlimit="10"/><path d="M908.3,169H1017" stroke="#000" stroke-width="4.6" stroke-dasharray="0.01 11" stroke-linecap="round"/><g font-family="Liberation Serif, Times New Roman, serif" font-size="54.4" fill="#000"><text x="497.2" y="131.1">No payload</text><text x="497.2" y="194.8">Payload 2 (&#8211;20%)</text><text x="1023" y="125.2">Payload 1 (+20%)</text><text x="1023" y="190.3">Desired trajectory</text></g><rect x="493.0" y="370.0" width="294.00" height="234.00" fill="#fff"/><path d="M523.90,370.0V604.0M586.70,370.0V604.0M649.50,370.0V604.0M712.30,370.0V604.0M775.10,370.0V604.0M493.0,532.60H787.0M493.0,429.80H787.0" stroke="#dadada" stroke-width="2" fill="none"/><g clip-path="url(#iclip)" fill="none" stroke-linejoin="round" shape-rendering="crispEdges"><path d="M493.00,548.51L495.51,541.71L498.03,535.47L500.54,529.32L503.05,522.90L505.56,516.47L508.07,510.54L510.59,505.55L513.10,501.42L515.61,497.64L518.12,493.75L520.63,489.22L523.15,484.19L525.66,479.38L528.17,475.52L530.68,473.09L533.19,471.32L535.71,469.86L538.22,468.50L540.73,467.00L543.24,465.13L545.75,462.90L548.27,460.54L550.78,458.27L553.29,456.32L555.80,454.93L558.31,453.99L560.83,453.15L563.34,452.41L565.85,451.76L568.36,451.22L570.87,450.76L573.39,450.39L575.90,450.08L578.41,449.78L580.92,449.49L583.43,449.24L585.95,449.01L588.46,448.83L590.97,448.70L593.48,448.63L595.99,448.61L598.51,448.61L601.02,448.61L603.53,448.61L606.04,448.61L608.55,448.61L611.07,448.61L613.58,448.61L616.09,448.61L618.60,448.61L621.11,448.74L623.63,449.77L626.14,451.38L628.65,453.05L631.16,454.25L633.67,455.08L636.19,455.80L638.70,456.56L641.21,457.50L643.72,458.88L646.23,460.65L648.75,462.55L651.26,464.28L653.77,465.57L656.28,466.44L658.79,467.15L661.31,467.84L663.82,468.66L666.33,469.57L668.84,470.52L671.35,471.46L673.87,472.35L676.38,473.14L678.89,473.85L681.40,474.55L683.91,475.33L686.43,476.20L688.94,477.14L691.45,478.12L693.96,479.15L696.47,480.22L698.99,481.31L701.50,482.43L704.01,483.60L706.52,484.84L709.03,486.13L711.55,487.45L714.06,488.76L716.57,490.04L719.08,491.26L721.59,492.41L724.11,493.52L726.62,494.61L729.13,495.69L731.64,496.77L734.15,497.87L736.67,498.96L739.18,500.03L741.69,501.10L744.20,502.19L746.71,503.32L749.23,504.53L751.74,505.81L754.25,507.18L756.76,508.63L759.27,510.18L761.79,511.82L764.30,513.58L766.81,515.52L769.32,517.87L771.83,520.39L774.35,522.76L776.86,524.72L779.37,526.41L781.88,527.96L784.39,529.33L786.91,530.49L789.42,532.27L791.93,534.06L794.44,535.85L796.95,537.65L799.47,539.45L801.98,541.25L804.49,543.06L807.00,544.88L809.51,546.70L812.03,548.53" stroke="#000" stroke-width="4.5"/><path d="M493.00,564.45L495.51,557.86L498.03,551.35L500.54,544.90L503.05,538.42L505.56,531.79L508.07,525.40L510.59,519.66L513.10,514.77L515.61,510.41L518.12,506.32L520.63,502.23L523.15,497.91L525.66,493.57L528.17,489.63L530.68,486.43L533.19,483.75L535.71,481.35L538.22,479.11L540.73,476.90L543.24,474.80L545.75,472.89L548.27,471.24L550.78,469.73L553.29,468.30L555.80,466.97L558.31,465.77L560.83,464.70L563.34,463.78L565.85,462.96L568.36,462.19L570.87,461.50L573.39,460.90L575.90,460.42L578.41,460.06L580.92,459.74L583.43,459.44L585.95,459.16L588.46,458.91L590.97,458.69L593.48,458.53L595.99,458.42L598.51,458.38L601.02,458.38L603.53,458.38L606.04,458.38L608.55,458.38L611.07,458.38L613.58,458.38L616.09,458.38L618.60,458.59L621.11,459.32L623.63,460.39L626.14,461.59L628.65,462.71L631.16,463.68L633.67,464.68L636.19,465.71L638.70,466.75L641.21,467.78L643.72,468.79L646.23,469.76L648.75,470.78L651.26,471.94L653.77,472.96L656.28,473.54L658.79,473.55L661.31,473.37L663.82,473.12L666.33,472.88L668.84,472.73L671.35,472.86L673.87,473.51L676.38,474.53L678.89,475.71L681.40,476.84L683.91,477.82L686.43,478.84L688.94,479.89L691.45,481.02L693.96,482.23L696.47,483.52L698.99,484.90L701.50,486.34L704.01,487.83L706.52,489.35L709.03,490.93L711.55,492.61L714.06,494.35L716.57,496.11L719.08,497.85L721.59,499.52L724.11,501.10L726.62,502.63L729.13,504.13L731.64,505.59L734.15,507.03L736.67,508.46L739.18,509.88L741.69,511.29L744.20,512.71L746.71,514.06L749.23,515.33L751.74,516.59L754.25,517.89L756.76,519.30L759.27,520.90L761.79,522.83L764.30,525.36L766.81,528.20L769.32,530.99L771.83,533.40L774.35,535.26L776.86,536.94L779.37,538.47L781.88,539.81L784.39,540.90L786.91,542.36L789.42,544.05L791.93,545.74L794.44,547.44L796.95,549.14L799.47,550.85L801.98,552.56L804.49,554.28L807.00,556.01L809.51,557.74L812.03,559.48" stroke="#0000ff" stroke-width="4.5" stroke-dasharray="24 15"/><path d="M503.04,509.82H519.64V526.42H503.04ZM590.96,450.08H607.56V466.68H590.96ZM678.88,470.85H695.48V487.45H678.88ZM766.80,527.48H783.40V544.08H766.80Z" stroke="#0000ff" stroke-width="4.4" stroke-linejoin="miter"/><path d="M493.00,540.99L495.51,534.36L498.03,528.61L500.54,522.11L503.05,514.85L505.56,507.98L508.07,502.43L510.59,497.66L513.10,493.32L515.61,489.16L518.12,485.07L520.63,481.16L523.15,477.63L525.66,474.64L528.17,472.09L530.68,469.73L533.19,467.32L535.71,464.83L538.22,462.35L540.73,459.82L543.24,457.14L545.75,454.16L548.27,451.22L550.78,448.72L553.29,446.67L555.80,444.79L558.31,443.15L560.83,441.84L563.34,440.84L565.85,439.96L568.36,439.19L570.87,438.57L573.39,438.11L575.90,437.81L578.41,437.61L580.92,437.43L583.43,437.23L585.95,436.93L588.46,436.47L590.97,435.96L593.48,435.52L595.99,435.25L598.51,435.06L601.02,434.88L603.53,434.73L606.04,434.60L608.55,434.50L611.07,434.44L613.58,434.43L616.09,434.65L618.60,435.13L621.11,435.79L623.63,436.54L626.14,437.29L628.65,438.16L631.16,439.19L633.67,440.39L636.19,441.73L638.70,443.44L641.21,445.46L643.72,447.53L646.23,449.48L648.75,451.49L651.26,453.50L653.77,455.39L656.28,457.02L658.79,458.30L661.31,459.37L663.82,460.31L666.33,461.19L668.84,462.07L671.35,463.02L673.87,464.13L676.38,465.40L678.89,466.79L681.40,468.21L683.91,469.61L686.43,470.91L688.94,472.06L691.45,473.13L693.96,474.15L696.47,475.13L698.99,476.09L701.50,477.04L704.01,477.98L706.52,478.88L709.03,479.77L711.55,480.67L714.06,481.61L716.57,482.59L719.08,483.60L721.59,484.64L724.11,485.71L726.62,486.80L729.13,487.89L731.64,488.98L734.15,490.09L736.67,491.21L739.18,492.36L741.69,493.53L744.20,494.74L746.71,495.99L749.23,497.28L751.74,498.63L754.25,500.05L756.76,501.61L759.27,503.30L761.79,505.08L764.30,506.92L766.81,508.77L769.32,510.61L771.83,512.40L774.35,514.09L776.86,515.65L779.37,517.07L781.88,518.39L784.39,519.64L786.91,520.81L789.42,522.16L791.93,524.03L794.44,525.90L796.95,527.77L799.47,529.65L801.98,531.53L804.49,533.42L807.00,535.32L809.51,537.21L812.03,539.12" stroke="#ff0000" stroke-width="4.6" stroke-dasharray="23 7 7 7"/><path d="M473.66,635.67L483.96,649.87L473.66,664.07L463.36,649.87ZM561.58,427.32L571.88,441.52L561.58,455.72L551.28,441.52ZM649.50,437.90L659.80,452.10L649.50,466.30L639.20,452.10ZM737.42,477.35L747.72,491.55L737.42,505.75L727.12,491.55ZM825.34,535.07L835.64,549.27L825.34,563.47L815.04,549.27Z" stroke="#ff0000" stroke-width="4.5" stroke-linejoin="miter" stroke-miterlimit="10"/><path d="M493.00,392.09L495.51,392.97L498.03,393.86L500.54,394.76L503.05,395.67L505.56,396.58L508.07,397.50L510.59,398.43L513.10,399.36L515.61,400.31L518.12,401.26L520.63,402.21L523.15,403.18L525.66,404.15L528.17,405.13L530.68,406.12L533.19,407.11L535.71,408.11L538.22,409.12L540.73,410.14L543.24,411.16L545.75,412.19L548.27,413.23L550.78,414.28L553.29,415.33L555.80,416.39L558.31,417.45L560.83,418.53L563.34,419.61L565.85,420.70L568.36,421.79L570.87,422.90L573.39,424.01L575.90,425.13L578.41,426.25L580.92,427.38L583.43,428.52L585.95,429.67L588.46,430.82L590.97,431.98L593.48,433.15L595.99,434.32L598.51,435.50L601.02,436.69L603.53,437.88L606.04,439.09L608.55,440.30L611.07,441.51L613.58,442.74L616.09,443.97L618.60,445.20L621.11,446.45L623.63,447.70L626.14,448.96L628.65,450.22L631.16,451.49L633.67,452.77L636.19,454.06L638.70,455.35L641.21,456.65L643.72,457.96L646.23,459.27L648.75,460.59L651.26,461.92L653.77,463.25L656.28,464.59L658.79,465.94L661.31,467.29L663.82,468.65L666.33,470.02L668.84,471.39L671.35,472.77L673.87,474.16L676.38,475.55L678.89,476.96L681.40,478.36L683.91,479.78L686.43,481.20L688.94,482.62L691.45,484.06L693.96,485.50L696.47,486.94L698.99,488.40L701.50,489.86L704.01,491.32L706.52,492.80L709.03,494.28L711.55,495.76L714.06,497.25L716.57,498.75L719.08,500.26L721.59,501.77L724.11,503.29L726.62,504.81L729.13,506.34L731.64,507.88L734.15,509.42L736.67,510.97L739.18,512.53L741.69,514.09L744.20,515.66L746.71,517.23L749.23,518.81L751.74,520.40L754.25,521.99L756.76,523.59L759.27,525.20L761.79,526.81L764.30,528.43L766.81,530.05L769.32,531.68L771.83,533.32L774.35,534.96L776.86,536.61L779.37,538.27L781.88,539.93L784.39,541.59L786.91,543.27L789.42,544.94L791.93,546.63L794.44,548.32L796.95,550.02L799.47,551.72L801.98,553.43L804.49,555.14L807.00,556.86L809.51,558.59L812.03,560.32" stroke="#000" stroke-width="4.6" stroke-dasharray="0.01 11" stroke-linecap="round"/></g><path d="M523.90,604.0V599.5M523.90,370.0V374.5M586.70,604.0V599.5M586.70,370.0V374.5M649.50,604.0V599.5M649.50,370.0V374.5M712.30,604.0V599.5M712.30,370.0V374.5M775.10,604.0V599.5M775.10,370.0V374.5M493.0,532.60H497.5M787.0,532.60H782.5M493.0,429.80H497.5M787.0,429.80H782.5" stroke="#111111" stroke-width="2" fill="none"/><rect x="493.0" y="370.0" width="294.00" height="234.00" stroke="#111111" stroke-width="2" fill="none"/><g font-family="Liberation Serif, Times New Roman, serif" font-size="50" fill="#262626"><text x="586.70" y="668" text-anchor="middle">0.3</text><text x="712.30" y="668" text-anchor="middle">0.4</text><text x="475" y="449.10" text-anchor="end">1.4</text><text x="475" y="551.90" text-anchor="end">1.2</text></g><path d="M287.3,657.9L375,605.5" stroke="#000" stroke-width="2.2" fill="none"/><path d="M398.2,591.3L358.2,599L374.6,605.8L372.3,623.6Z" fill="#000" stroke="#000" stroke-width="0.8" stroke-linejoin="round"/></svg>
</body></html>
